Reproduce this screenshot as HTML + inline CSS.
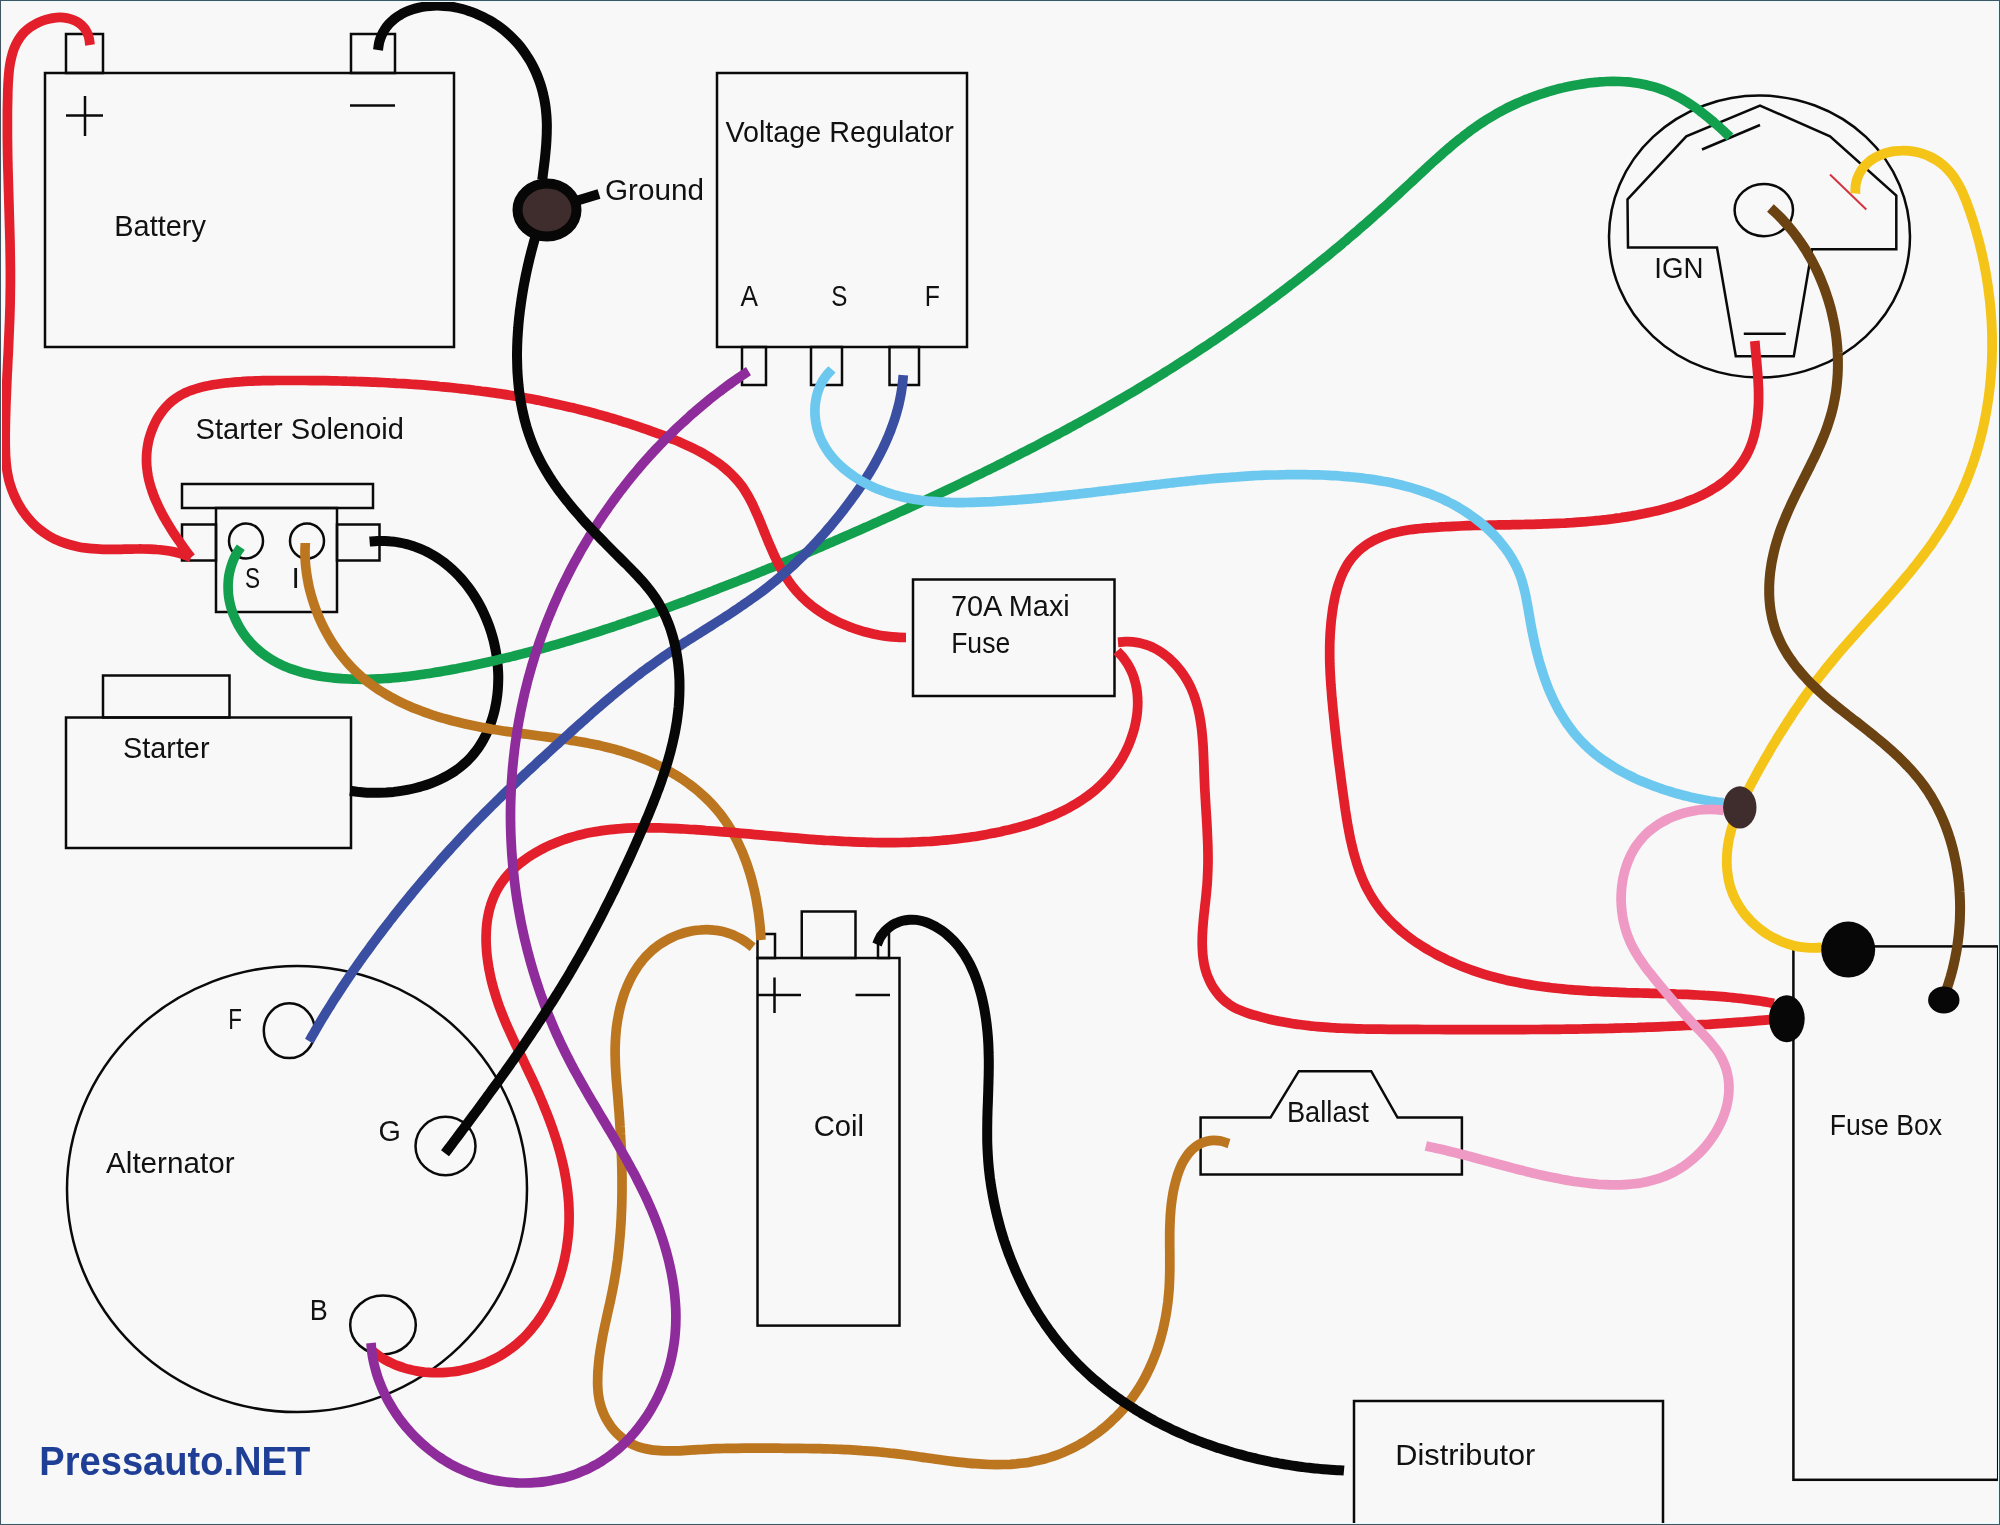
<!DOCTYPE html>
<html><head><meta charset="utf-8"><style>
html,body{margin:0;padding:0;background:#f8f8f8;overflow:hidden;}
svg{display:block;}
text{font-family:"Liberation Sans",sans-serif;}
</style></head><body>
<svg width="2000" height="1525" viewBox="0 0 2000 1525">
<rect x="0" y="0" width="2000" height="1525" fill="#f8f8f8"/>
<rect x="66" y="34" width="37" height="39" fill="none" stroke="#0a0a0a" stroke-width="2.5"/>
<rect x="351" y="34" width="44" height="39" fill="none" stroke="#0a0a0a" stroke-width="2.5"/>
<rect x="45" y="73" width="409" height="274" fill="none" stroke="#0a0a0a" stroke-width="2.5"/>
<line x1="85" y1="96" x2="85" y2="136" stroke="#0a0a0a" stroke-width="2.5"/>
<line x1="66" y1="115.5" x2="103" y2="115.5" stroke="#0a0a0a" stroke-width="2.5"/>
<line x1="350" y1="105.5" x2="395" y2="105.5" stroke="#0a0a0a" stroke-width="2.5"/>
<rect x="742" y="347" width="24" height="38" fill="none" stroke="#0a0a0a" stroke-width="2.5"/>
<rect x="811" y="347" width="31" height="38" fill="none" stroke="#0a0a0a" stroke-width="2.5"/>
<rect x="889.5" y="347" width="29.5" height="38" fill="none" stroke="#0a0a0a" stroke-width="2.5"/>
<rect x="717" y="73" width="250" height="274" fill="none" stroke="#0a0a0a" stroke-width="2.5"/>
<rect x="182" y="484" width="191" height="24" fill="none" stroke="#0a0a0a" stroke-width="2.5"/>
<rect x="182" y="524.5" width="34" height="36.0" fill="none" stroke="#0a0a0a" stroke-width="2.5"/>
<rect x="337" y="524.5" width="42.5" height="36.0" fill="none" stroke="#0a0a0a" stroke-width="2.5"/>
<rect x="216" y="508" width="121" height="104" fill="none" stroke="#0a0a0a" stroke-width="2.5"/>
<ellipse cx="246" cy="541" rx="17" ry="17.5" fill="none" stroke="#0a0a0a" stroke-width="2.5"/>
<ellipse cx="307" cy="541" rx="17" ry="17.5" fill="none" stroke="#0a0a0a" stroke-width="2.5"/>
<rect x="103" y="675.5" width="126.5" height="42.0" fill="none" stroke="#0a0a0a" stroke-width="2.5"/>
<rect x="66" y="717.5" width="285" height="130.5" fill="none" stroke="#0a0a0a" stroke-width="2.5"/>
<rect x="913" y="579.5" width="201.5" height="116.5" fill="none" stroke="#0a0a0a" stroke-width="2.5"/>
<ellipse cx="297" cy="1189" rx="230" ry="223" fill="none" stroke="#0a0a0a" stroke-width="2.5"/>
<ellipse cx="289.3" cy="1030.7" rx="25.5" ry="27.4" fill="none" stroke="#0a0a0a" stroke-width="2.5"/>
<ellipse cx="445.5" cy="1146" rx="30" ry="29.3" fill="none" stroke="#0a0a0a" stroke-width="2.5"/>
<ellipse cx="383" cy="1325" rx="32.8" ry="29.4" fill="none" stroke="#0a0a0a" stroke-width="2.5"/>
<rect x="757.5" y="934" width="17.5" height="24" fill="none" stroke="#0a0a0a" stroke-width="2.5"/>
<rect x="878" y="934" width="11" height="24" fill="none" stroke="#0a0a0a" stroke-width="2.5"/>
<rect x="801.75" y="911.5" width="53.75" height="46.5" fill="none" stroke="#0a0a0a" stroke-width="2.5"/>
<rect x="757.5" y="958" width="142.0" height="367.5999999999999" fill="none" stroke="#0a0a0a" stroke-width="2.5"/>
<line x1="774.5" y1="977.5" x2="774.5" y2="1013" stroke="#0a0a0a" stroke-width="2.5"/>
<line x1="757.5" y1="995" x2="801" y2="995" stroke="#0a0a0a" stroke-width="2.5"/>
<line x1="855.5" y1="995" x2="890" y2="995" stroke="#0a0a0a" stroke-width="2.5"/>
<path d="M1200.6 1117.6 V1174.5 H1461.9 V1117.6 H1397.5 L1371.2 1071.2 H1298.8 L1270.5 1117.6 Z" fill="none" stroke="#0a0a0a" stroke-width="2.5" stroke-linejoin="miter"/>
<rect x="1354" y="1401" width="309" height="129" fill="none" stroke="#0a0a0a" stroke-width="2.5"/>
<rect x="1793.4" y="946.4" width="204.79999999999995" height="533.4" fill="none" stroke="#0a0a0a" stroke-width="2.5"/>
<ellipse cx="1759.5" cy="236.6" rx="150.5" ry="141" fill="none" stroke="#0a0a0a" stroke-width="2.5"/>
<path d="M1627.5 199.3 L1686.3 136.3 L1760 105.5 L1830 136.3 L1896.3 195.5 V249.3 H1812 L1793.8 356.3 H1735.8 L1717 247.5 H1628 Z" fill="none" stroke="#0a0a0a" stroke-width="2.5" stroke-linejoin="miter"/>
<ellipse cx="1763.8" cy="210.1" rx="29.2" ry="26.1" fill="none" stroke="#0a0a0a" stroke-width="2.5"/>
<line x1="1702" y1="149.5" x2="1760" y2="125" stroke="#0a0a0a" stroke-width="2.5"/>
<line x1="1743.8" y1="333.8" x2="1785.8" y2="333.8" stroke="#0a0a0a" stroke-width="2.5"/>
<line x1="1830" y1="174.5" x2="1866.3" y2="209.5" stroke="#d33340" stroke-width="2"/>
<g opacity="0.999">
<text transform="translate(114.27 235.60) scale(0.9645 1)" font-size="30" fill="#111">Battery</text>
<text transform="translate(725.40 141.80) scale(0.9580 1)" font-size="30" fill="#111">Voltage Regulator</text>
<text transform="translate(740.50 306.00) scale(0.8750 1)" font-size="30" fill="#111">A</text>
<text transform="translate(831.19 306.00) scale(0.8059 1)" font-size="30" fill="#111">S</text>
<text transform="translate(924.75 306.00) scale(0.8267 1)" font-size="30" fill="#111">F</text>
<text transform="translate(605.02 199.70) scale(0.9896 1)" font-size="30" fill="#111">Ground</text>
<text transform="translate(1654.23 277.50) scale(0.9219 1)" font-size="30" fill="#111">IGN</text>
<text transform="translate(195.56 439.25) scale(0.9692 1)" font-size="30" fill="#111">Starter Solenoid</text>
<text transform="translate(244.89 588.00) scale(0.7529 1)" font-size="30" fill="#111">S</text>
<text transform="translate(291.60 588.00) scale(1.0000 1)" font-size="30" fill="#111">I</text>
<text transform="translate(123.08 757.50) scale(0.9602 1)" font-size="30" fill="#111">Starter</text>
<text transform="translate(950.97 616.00) scale(0.9633 1)" font-size="30" fill="#111">70A Maxi</text>
<text transform="translate(951.13 652.80) scale(0.8857 1)" font-size="30" fill="#111">Fuse</text>
<text transform="translate(228.31 1028.50) scale(0.7467 1)" font-size="30" fill="#111">F</text>
<text transform="translate(378.58 1141.30) scale(0.9579 1)" font-size="30" fill="#111">G</text>
<text transform="translate(106.00 1172.60) scale(0.9892 1)" font-size="30" fill="#111">Alternator</text>
<text transform="translate(309.80 1319.60) scale(0.9000 1)" font-size="30" fill="#111">B</text>
<text transform="translate(813.75 1136.40) scale(0.9750 1)" font-size="30" fill="#111">Coil</text>
<text transform="translate(1286.93 1122.20) scale(0.9097 1)" font-size="30" fill="#111">Ballast</text>
<text transform="translate(1395.35 1465.20) scale(1.0239 1)" font-size="30" fill="#111">Distributor</text>
<text transform="translate(1829.73 1135.00) scale(0.8871 1)" font-size="30" fill="#111">Fuse Box</text>
<text transform="translate(39.36 1474.70) scale(0.9452 1)" font-size="40.3" fill="#1f3f97" font-weight="bold">Pressauto.NET</text>
</g>
<path d="M90.0 45.0 C89.8 43.6 89.4 39.3 88.7 36.8 C88.0 34.4 87.0 32.2 85.8 30.2 C84.6 28.2 83.1 26.5 81.5 25.0 C79.9 23.5 78.1 22.3 76.2 21.2 C74.3 20.2 72.2 19.4 70.1 18.8 C68.0 18.2 65.7 17.8 63.5 17.6 C61.2 17.4 58.9 17.4 56.5 17.6 C54.2 17.8 51.8 18.1 49.5 18.7 C47.2 19.2 44.8 19.9 42.6 20.7 C40.3 21.5 38.1 22.5 36.0 23.7 C33.9 24.8 31.9 26.0 30.0 27.4 C28.1 28.8 26.3 30.3 24.7 31.8 C23.1 33.4 21.7 35.1 20.4 36.9 C19.1 38.7 17.9 40.6 16.9 42.5 C15.8 44.5 14.9 46.5 14.1 48.6 C13.3 50.7 12.6 52.9 12.0 55.1 C11.4 57.3 10.9 59.6 10.4 61.9 C10.0 64.2 9.6 66.6 9.3 69.0 C9.0 71.4 8.8 73.9 8.6 76.3 C8.4 78.7 8.3 81.2 8.1 83.7 C8.0 86.2 7.9 88.7 7.8 91.2 C7.8 93.6 7.7 96.1 7.7 98.6 C7.6 101.1 7.6 103.5 7.5 106.0 C7.5 108.4 7.4 110.9 7.4 113.3 C7.4 115.8 7.4 118.2 7.4 120.6 C7.4 123.1 7.4 125.5 7.4 127.9 C7.4 130.3 7.4 132.8 7.4 135.2 C7.4 137.6 7.4 140.0 7.5 142.4 C7.5 144.8 7.5 147.2 7.6 149.5 C7.6 151.9 7.6 154.3 7.7 156.7 C7.7 159.1 7.8 161.5 7.8 163.8 C7.9 166.2 7.9 168.6 8.0 170.9 C8.1 173.3 8.1 175.6 8.2 178.0 C8.3 180.4 8.3 182.7 8.4 185.1 C8.4 187.4 8.5 189.8 8.6 192.1 C8.7 194.4 8.7 196.8 8.8 199.1 C8.9 201.5 8.9 203.8 9.0 206.1 C9.1 208.5 9.1 210.8 9.2 213.1 C9.3 215.5 9.3 217.8 9.4 220.1 C9.5 222.5 9.5 224.8 9.6 227.1 C9.7 229.5 9.7 231.8 9.8 234.1 C9.8 236.4 9.9 238.8 10.0 241.1 C10.0 243.4 10.1 245.8 10.1 248.1 C10.1 250.4 10.2 252.7 10.2 255.1 C10.3 257.4 10.3 259.7 10.3 262.1 C10.3 264.4 10.4 266.7 10.4 269.1 C10.4 271.4 10.4 273.7 10.4 276.1 C10.4 278.4 10.4 280.7 10.4 283.1 C10.4 285.4 10.4 287.8 10.3 290.1 C10.3 292.5 10.3 294.8 10.2 297.2 C10.2 299.5 10.2 301.9 10.1 304.2 C10.1 306.6 10.0 309.0 9.9 311.3 C9.8 313.7 9.8 316.0 9.7 318.4 C9.6 320.8 9.5 323.2 9.4 325.5 C9.3 327.9 9.2 330.3 9.1 332.7 C9.0 335.0 8.9 337.4 8.8 339.8 C8.7 342.2 8.6 344.6 8.5 346.9 C8.4 349.3 8.3 351.7 8.2 354.1 C8.0 356.5 7.9 358.9 7.8 361.3 C7.7 363.7 7.6 366.1 7.5 368.5 C7.4 370.8 7.2 373.2 7.1 375.6 C7.0 378.0 6.9 380.4 6.8 382.8 C6.7 385.2 6.6 387.6 6.5 390.0 C6.4 392.4 6.3 394.8 6.2 397.2 C6.1 399.6 6.0 402.0 5.9 404.4 C5.8 406.8 5.8 409.2 5.7 411.6 C5.6 414.0 5.6 416.4 5.5 418.8 C5.4 421.2 5.4 423.6 5.3 426.0 C5.3 428.4 5.3 430.8 5.2 433.2 C5.2 435.6 5.2 438.0 5.2 440.4 C5.2 442.8 5.2 445.2 5.3 447.6 C5.3 450.0 5.4 452.4 5.5 454.7 C5.6 457.1 5.8 459.5 6.0 461.8 C6.2 464.2 6.5 466.5 6.8 468.9 C7.1 471.2 7.5 473.5 8.0 475.8 C8.4 478.1 9.0 480.4 9.6 482.7 C10.3 484.9 11.0 487.2 11.8 489.4 C12.6 491.6 13.4 493.8 14.4 495.9 C15.4 498.1 16.4 500.2 17.5 502.3 C18.6 504.4 19.8 506.4 21.1 508.4 C22.3 510.4 23.7 512.3 25.1 514.2 C26.5 516.0 27.9 517.9 29.5 519.6 C31.0 521.4 32.6 523.1 34.3 524.7 C36.0 526.3 37.7 527.9 39.6 529.4 C41.4 530.8 43.2 532.2 45.2 533.5 C47.1 534.8 49.1 536.1 51.2 537.2 C53.2 538.3 55.3 539.4 57.5 540.3 C59.7 541.3 61.9 542.1 64.1 542.9 C66.4 543.7 68.7 544.4 71.0 545.0 C73.3 545.7 75.6 546.2 78.0 546.7 C80.3 547.2 82.7 547.6 85.1 547.9 C87.4 548.2 89.8 548.5 92.2 548.7 C94.6 548.9 97.0 549.1 99.4 549.2 C101.8 549.3 104.2 549.3 106.6 549.4 C109.0 549.4 111.4 549.4 113.9 549.4 C116.3 549.4 118.7 549.3 121.1 549.3 C123.5 549.2 125.9 549.2 128.3 549.1 C130.7 549.1 133.1 549.0 135.5 549.0 C137.9 549.0 140.3 548.9 142.6 549.0 C145.0 549.0 147.4 549.0 149.8 549.1 C152.1 549.2 154.5 549.3 156.8 549.5 C159.2 549.6 161.5 549.9 163.8 550.2 C166.2 550.5 168.5 550.8 170.8 551.2 C173.1 551.7 175.3 552.2 177.6 552.8 C179.9 553.4 182.1 554.0 184.4 554.8 C186.6 555.6 189.9 557.1 191.0 557.5" stroke="#e31f2b" stroke-width="9.7" fill="none" stroke-linecap="butt" stroke-linejoin="round"/>
<path d="M369.6 541.6 C370.9 541.5 374.8 541.1 377.3 541.0 C379.9 540.9 382.4 540.9 384.9 541.0 C387.4 541.1 389.9 541.3 392.3 541.6 C394.8 541.8 397.2 542.2 399.5 542.6 C401.9 543.0 404.2 543.5 406.6 544.1 C408.9 544.7 411.1 545.4 413.4 546.1 C415.6 546.9 417.8 547.7 420.0 548.6 C422.1 549.5 424.3 550.5 426.4 551.5 C428.5 552.6 430.5 553.7 432.5 554.8 C434.6 556.0 436.5 557.3 438.5 558.6 C440.4 559.9 442.3 561.2 444.2 562.6 C446.0 564.1 447.9 565.6 449.6 567.1 C451.4 568.6 453.2 570.2 454.8 571.9 C456.5 573.5 458.2 575.2 459.8 577.0 C461.4 578.7 463.0 580.5 464.5 582.4 C466.0 584.2 467.5 586.1 468.9 588.0 C470.3 589.9 471.7 591.9 473.0 593.9 C474.4 595.9 475.6 598.0 476.9 600.1 C478.1 602.2 479.3 604.3 480.4 606.4 C481.6 608.6 482.7 610.8 483.7 613.0 C484.7 615.2 485.7 617.5 486.6 619.7 C487.6 622.0 488.4 624.3 489.3 626.6 C490.1 628.9 490.9 631.3 491.6 633.6 C492.3 636.0 492.9 638.3 493.6 640.7 C494.2 643.1 494.7 645.5 495.2 648.0 C495.7 650.4 496.1 652.8 496.5 655.2 C496.9 657.7 497.2 660.1 497.4 662.6 C497.7 665.0 497.9 667.5 498.0 670.0 C498.2 672.4 498.3 674.9 498.3 677.3 C498.3 679.8 498.2 682.3 498.1 684.7 C498.0 687.2 497.9 689.6 497.6 692.1 C497.4 694.5 497.1 696.9 496.7 699.3 C496.4 701.7 495.9 704.1 495.4 706.5 C495.0 708.9 494.4 711.3 493.8 713.6 C493.2 715.9 492.5 718.2 491.7 720.5 C491.0 722.8 490.2 725.0 489.3 727.2 C488.4 729.4 487.5 731.6 486.5 733.7 C485.4 735.8 484.4 737.9 483.2 740.0 C482.1 742.0 480.9 744.0 479.6 745.9 C478.3 747.9 477.0 749.8 475.5 751.6 C474.1 753.4 472.7 755.2 471.1 757.0 C469.6 758.7 467.9 760.3 466.3 761.9 C464.6 763.5 462.8 765.0 461.0 766.5 C459.2 768.0 457.3 769.4 455.4 770.7 C453.4 772.0 451.4 773.3 449.4 774.5 C447.4 775.7 445.3 776.9 443.1 777.9 C441.0 779.0 438.8 780.0 436.6 781.0 C434.4 782.0 432.1 782.9 429.8 783.7 C427.5 784.5 425.2 785.3 422.8 786.0 C420.5 786.7 418.1 787.4 415.7 788.0 C413.3 788.6 410.9 789.2 408.4 789.6 C406.0 790.1 403.6 790.6 401.1 790.9 C398.6 791.3 396.2 791.6 393.7 791.9 C391.2 792.1 388.7 792.3 386.3 792.5 C383.8 792.6 381.3 792.7 378.9 792.8 C376.4 792.8 373.9 792.8 371.5 792.8 C369.1 792.7 366.6 792.6 364.2 792.4 C361.8 792.2 359.4 792.0 357.1 791.8 C354.7 791.5 351.3 791.0 350.1 790.8" stroke="#070707" stroke-width="10" fill="none" stroke-linecap="butt" stroke-linejoin="round"/>
<path d="M240.8 547.2 C240.1 548.2 238.0 551.1 236.8 553.2 C235.6 555.2 234.6 557.4 233.6 559.5 C232.7 561.7 231.9 563.9 231.2 566.1 C230.5 568.4 229.9 570.7 229.4 573.0 C228.9 575.3 228.6 577.6 228.4 579.9 C228.2 582.3 228.0 584.6 228.1 587.0 C228.1 589.3 228.2 591.7 228.4 594.0 C228.6 596.3 229.0 598.6 229.4 600.9 C229.9 603.2 230.4 605.5 231.1 607.8 C231.8 610.0 232.5 612.3 233.3 614.5 C234.2 616.7 235.1 618.8 236.2 621.0 C237.2 623.1 238.3 625.2 239.5 627.2 C240.7 629.2 241.9 631.2 243.3 633.2 C244.6 635.1 246.0 637.0 247.5 638.8 C249.0 640.6 250.5 642.4 252.1 644.1 C253.7 645.8 255.4 647.4 257.1 648.9 C258.8 650.5 260.6 652.0 262.4 653.4 C264.2 654.8 266.1 656.1 268.0 657.3 C269.9 658.6 271.9 659.8 273.9 660.9 C275.9 662.1 277.9 663.1 280.0 664.1 C282.0 665.1 284.2 666.1 286.3 667.0 C288.5 667.8 290.6 668.7 292.8 669.4 C295.0 670.2 297.3 670.9 299.5 671.6 C301.8 672.3 304.1 672.9 306.4 673.4 C308.7 674.0 311.0 674.5 313.4 675.0 C315.7 675.5 318.1 675.9 320.4 676.3 C322.8 676.7 325.2 677.0 327.6 677.3 C330.0 677.6 332.4 677.9 334.8 678.1 C337.2 678.3 339.6 678.5 342.0 678.7 C344.4 678.8 346.8 678.9 349.2 679.0 C351.6 679.1 354.0 679.2 356.4 679.2 C358.8 679.3 361.1 679.3 363.5 679.3 C365.9 679.3 368.3 679.2 370.6 679.2 C373.0 679.1 375.3 679.0 377.7 678.9 C380.1 678.8 382.4 678.7 384.7 678.5 C387.1 678.4 389.4 678.2 391.8 678.0 C394.1 677.8 396.4 677.6 398.8 677.4 C401.1 677.1 403.4 676.9 405.7 676.6 C408.1 676.3 410.4 676.1 412.7 675.8 C415.0 675.5 417.3 675.2 419.6 674.8 C421.9 674.5 424.2 674.2 426.5 673.8 C428.8 673.5 431.1 673.1 433.4 672.7 C435.7 672.3 438.0 672.0 440.3 671.6 C442.6 671.2 444.9 670.8 447.2 670.4 C449.5 669.9 451.8 669.5 454.1 669.1 C456.4 668.7 458.7 668.2 461.0 667.8 C463.3 667.3 465.6 666.9 467.9 666.4 C470.2 665.9 472.4 665.5 474.7 665.0 C477.0 664.5 479.3 664.0 481.6 663.5 C483.9 663.0 486.2 662.5 488.4 662.0 C490.7 661.5 493.0 661.0 495.3 660.5 C497.6 659.9 499.8 659.4 502.1 658.8 C504.4 658.3 506.7 657.7 508.9 657.2 C511.2 656.6 513.5 656.1 515.8 655.5 C518.0 654.9 520.3 654.3 522.6 653.8 C524.8 653.2 527.1 652.6 529.4 652.0 C531.6 651.4 533.9 650.8 536.2 650.2 C538.4 649.5 540.7 648.9 543.0 648.3 C545.2 647.7 547.5 647.0 549.7 646.4 C552.0 645.8 554.2 645.1 556.5 644.5 C558.8 643.8 561.0 643.1 563.3 642.5 C565.5 641.8 567.8 641.1 570.0 640.5 C572.3 639.8 574.5 639.1 576.8 638.4 C579.0 637.7 581.3 637.0 583.5 636.3 C585.8 635.7 588.0 634.9 590.2 634.2 C592.5 633.5 594.7 632.8 597.0 632.1 C599.2 631.4 601.4 630.7 603.7 629.9 C605.9 629.2 608.2 628.5 610.4 627.7 C612.6 627.0 614.9 626.2 617.1 625.5 C619.3 624.7 621.5 624.0 623.8 623.2 C626.0 622.5 628.2 621.7 630.5 621.0 C632.7 620.2 634.9 619.4 637.1 618.7 C639.3 617.9 641.6 617.1 643.8 616.3 C646.0 615.5 648.2 614.8 650.4 614.0 C652.7 613.2 654.9 612.4 657.1 611.6 C659.3 610.8 661.5 610.0 663.7 609.2 C665.9 608.4 668.2 607.6 670.4 606.8 C672.6 606.0 674.8 605.2 677.0 604.3 C679.2 603.5 681.4 602.7 683.6 601.9 C685.8 601.1 688.0 600.2 690.2 599.4 C692.4 598.6 694.6 597.8 696.8 596.9 C699.0 596.1 701.2 595.3 703.4 594.4 C705.6 593.6 707.8 592.8 709.9 591.9 C712.1 591.1 714.3 590.2 716.5 589.4 C718.7 588.5 720.9 587.7 723.1 586.8 C725.3 586.0 727.4 585.1 729.6 584.3 C731.8 583.4 734.0 582.6 736.2 581.7 C738.3 580.8 740.5 580.0 742.7 579.1 C744.9 578.3 747.1 577.4 749.2 576.5 C751.4 575.6 753.6 574.8 755.7 573.9 C757.9 573.0 760.1 572.1 762.3 571.3 C764.4 570.4 766.6 569.5 768.8 568.6 C770.9 567.7 773.1 566.8 775.3 566.0 C777.4 565.1 779.6 564.2 781.8 563.3 C783.9 562.4 786.1 561.5 788.2 560.6 C790.4 559.7 792.6 558.8 794.7 557.9 C796.9 557.0 799.0 556.1 801.2 555.2 C803.4 554.3 805.5 553.4 807.7 552.5 C809.8 551.5 812.0 550.6 814.1 549.7 C816.3 548.8 818.4 547.9 820.6 547.0 C822.7 546.0 824.9 545.1 827.0 544.2 C829.2 543.3 831.3 542.3 833.5 541.4 C835.6 540.5 837.8 539.5 839.9 538.6 C842.1 537.7 844.2 536.7 846.4 535.8 C848.5 534.9 850.7 533.9 852.8 533.0 C855.0 532.0 857.1 531.1 859.2 530.2 C861.4 529.2 863.5 528.3 865.7 527.3 C867.8 526.4 869.9 525.4 872.1 524.4 C874.2 523.5 876.4 522.5 878.5 521.6 C880.6 520.6 882.8 519.7 884.9 518.7 C887.1 517.7 889.2 516.8 891.3 515.8 C893.5 514.8 895.6 513.9 897.7 512.9 C899.9 511.9 902.0 510.9 904.1 510.0 C906.3 509.0 908.4 508.0 910.5 507.0 C912.7 506.1 914.8 505.1 916.9 504.1 C919.1 503.1 921.2 502.1 923.3 501.1 C925.5 500.1 927.6 499.2 929.7 498.2 C931.8 497.2 934.0 496.2 936.1 495.2 C938.2 494.2 940.3 493.2 942.5 492.2 C944.6 491.2 946.7 490.2 948.8 489.1 C950.9 488.1 953.1 487.1 955.2 486.1 C957.3 485.1 959.4 484.1 961.5 483.1 C963.7 482.0 965.8 481.0 967.9 480.0 C970.0 479.0 972.1 477.9 974.2 476.9 C976.3 475.9 978.5 474.9 980.6 473.8 C982.7 472.8 984.8 471.7 986.9 470.7 C989.0 469.7 991.1 468.6 993.2 467.6 C995.3 466.5 997.4 465.5 999.5 464.4 C1001.6 463.4 1003.7 462.3 1005.8 461.3 C1007.9 460.2 1010.0 459.1 1012.1 458.1 C1014.2 457.0 1016.3 455.9 1018.4 454.9 C1020.5 453.8 1022.6 452.7 1024.7 451.7 C1026.7 450.6 1028.8 449.5 1030.9 448.4 C1033.0 447.3 1035.1 446.3 1037.2 445.2 C1039.3 444.1 1041.3 443.0 1043.4 441.9 C1045.5 440.8 1047.6 439.7 1049.6 438.6 C1051.7 437.5 1053.8 436.4 1055.9 435.3 C1057.9 434.2 1060.0 433.1 1062.1 431.9 C1064.1 430.8 1066.2 429.7 1068.3 428.6 C1070.3 427.5 1072.4 426.3 1074.5 425.2 C1076.5 424.1 1078.6 423.0 1080.6 421.8 C1082.7 420.7 1084.7 419.6 1086.8 418.4 C1088.8 417.3 1090.9 416.1 1092.9 415.0 C1095.0 413.8 1097.0 412.7 1099.1 411.5 C1101.1 410.4 1103.2 409.2 1105.2 408.0 C1107.2 406.9 1109.3 405.7 1111.3 404.5 C1113.3 403.4 1115.4 402.2 1117.4 401.0 C1119.4 399.8 1121.5 398.6 1123.5 397.4 C1125.5 396.3 1127.5 395.1 1129.5 393.9 C1131.6 392.7 1133.6 391.5 1135.6 390.3 C1137.6 389.1 1139.6 387.9 1141.6 386.7 C1143.6 385.5 1145.7 384.2 1147.7 383.0 C1149.7 381.8 1151.7 380.6 1153.7 379.4 C1155.7 378.1 1157.7 376.9 1159.7 375.7 C1161.6 374.4 1163.6 373.2 1165.6 371.9 C1167.6 370.7 1169.6 369.5 1171.6 368.2 C1173.6 367.0 1175.5 365.7 1177.5 364.4 C1179.5 363.2 1181.5 361.9 1183.4 360.6 C1185.4 359.4 1187.4 358.1 1189.3 356.8 C1191.3 355.6 1193.3 354.3 1195.2 353.0 C1197.2 351.7 1199.2 350.4 1201.1 349.1 C1203.1 347.8 1205.0 346.5 1207.0 345.2 C1208.9 343.9 1210.9 342.6 1212.8 341.3 C1214.7 340.0 1216.7 338.7 1218.6 337.3 C1220.5 336.0 1222.5 334.7 1224.4 333.4 C1226.3 332.0 1228.3 330.7 1230.2 329.4 C1232.1 328.0 1234.0 326.7 1235.9 325.3 C1237.9 324.0 1239.8 322.6 1241.7 321.3 C1243.6 319.9 1245.5 318.6 1247.4 317.2 C1249.3 315.8 1251.2 314.5 1253.1 313.1 C1255.0 311.7 1256.9 310.3 1258.8 309.0 C1260.7 307.6 1262.6 306.2 1264.5 304.8 C1266.4 303.4 1268.2 302.0 1270.1 300.6 C1272.0 299.2 1273.9 297.8 1275.8 296.4 C1277.6 295.0 1279.5 293.6 1281.4 292.2 C1283.2 290.8 1285.1 289.3 1287.0 287.9 C1288.8 286.5 1290.7 285.1 1292.5 283.6 C1294.4 282.2 1296.2 280.7 1298.1 279.3 C1299.9 277.9 1301.8 276.4 1303.6 275.0 C1305.5 273.5 1307.3 272.1 1309.1 270.6 C1311.0 269.1 1312.8 267.7 1314.6 266.2 C1316.5 264.7 1318.3 263.3 1320.1 261.8 C1321.9 260.3 1323.8 258.8 1325.6 257.4 C1327.4 255.9 1329.2 254.4 1331.0 252.9 C1332.8 251.4 1334.6 249.9 1336.5 248.4 C1338.3 246.9 1340.1 245.4 1341.9 243.9 C1343.7 242.4 1345.4 240.9 1347.2 239.4 C1349.0 237.8 1350.8 236.3 1352.6 234.8 C1354.4 233.3 1356.2 231.7 1358.0 230.2 C1359.7 228.7 1361.5 227.1 1363.3 225.6 C1365.1 224.1 1366.8 222.5 1368.6 221.0 C1370.4 219.4 1372.1 217.9 1373.9 216.3 C1375.6 214.7 1377.4 213.2 1379.1 211.6 C1380.9 210.0 1382.6 208.5 1384.4 206.9 C1386.1 205.3 1387.9 203.8 1389.6 202.2 C1391.4 200.6 1393.1 199.0 1394.8 197.4 C1396.6 195.8 1398.3 194.2 1400.0 192.6 C1401.8 191.0 1403.5 189.4 1405.2 187.8 C1406.9 186.2 1408.6 184.6 1410.4 183.0 C1412.1 181.4 1413.8 179.8 1415.5 178.2 C1417.2 176.6 1418.9 175.0 1420.7 173.4 C1422.4 171.8 1424.1 170.2 1425.8 168.6 C1427.6 167.0 1429.3 165.4 1431.0 163.8 C1432.8 162.2 1434.5 160.6 1436.2 159.1 C1438.0 157.5 1439.7 155.9 1441.5 154.4 C1443.2 152.8 1445.0 151.3 1446.8 149.8 C1448.6 148.3 1450.3 146.7 1452.1 145.2 C1453.9 143.8 1455.7 142.3 1457.5 140.8 C1459.3 139.3 1461.2 137.9 1463.0 136.4 C1464.8 135.0 1466.7 133.6 1468.6 132.2 C1470.4 130.8 1472.3 129.4 1474.2 128.1 C1476.1 126.7 1478.0 125.4 1479.9 124.1 C1481.8 122.8 1483.8 121.5 1485.7 120.2 C1487.7 119.0 1489.7 117.8 1491.7 116.6 C1493.7 115.4 1495.7 114.2 1497.7 113.0 C1499.8 111.9 1501.8 110.8 1503.9 109.7 C1506.0 108.6 1508.1 107.5 1510.2 106.5 C1512.3 105.5 1514.5 104.5 1516.6 103.5 C1518.8 102.5 1520.9 101.6 1523.1 100.7 C1525.3 99.8 1527.5 98.9 1529.7 98.1 C1531.9 97.2 1534.2 96.4 1536.4 95.6 C1538.7 94.8 1540.9 94.1 1543.2 93.3 C1545.5 92.6 1547.7 91.9 1550.0 91.2 C1552.3 90.6 1554.6 89.9 1556.9 89.3 C1559.2 88.7 1561.5 88.2 1563.9 87.6 C1566.2 87.1 1568.5 86.6 1570.9 86.1 C1573.2 85.6 1575.5 85.1 1577.9 84.7 C1580.2 84.3 1582.6 83.9 1584.9 83.6 C1587.3 83.2 1589.6 82.9 1592.0 82.7 C1594.3 82.4 1596.7 82.2 1599.0 82.0 C1601.4 81.8 1603.7 81.6 1606.1 81.5 C1608.4 81.4 1610.8 81.4 1613.1 81.4 C1615.4 81.4 1617.8 81.4 1620.1 81.5 C1622.4 81.6 1624.7 81.7 1627.1 81.9 C1629.4 82.1 1631.7 82.4 1633.9 82.7 C1636.2 83.0 1638.5 83.3 1640.8 83.7 C1643.0 84.2 1645.3 84.6 1647.5 85.2 C1649.8 85.7 1652.0 86.3 1654.2 86.9 C1656.4 87.6 1658.6 88.3 1660.8 89.1 C1662.9 89.9 1665.1 90.7 1667.2 91.6 C1669.4 92.5 1671.5 93.5 1673.6 94.6 C1675.7 95.6 1677.8 96.7 1679.8 97.8 C1681.9 99.0 1683.9 100.2 1685.9 101.4 C1687.9 102.7 1689.9 104.0 1691.9 105.3 C1693.9 106.6 1695.8 108.0 1697.8 109.4 C1699.7 110.8 1701.6 112.3 1703.5 113.7 C1705.4 115.2 1707.2 116.7 1709.1 118.2 C1710.9 119.7 1712.7 121.3 1714.5 122.8 C1716.3 124.4 1718.1 125.9 1719.8 127.5 C1721.6 129.1 1723.3 130.7 1725.0 132.3 C1726.7 133.8 1729.2 136.2 1730.0 137.0" stroke="#13a04e" stroke-width="9.7" fill="none" stroke-linecap="butt" stroke-linejoin="round"/>
<path d="M305.3 543.0 C305.3 544.2 305.1 547.6 305.0 550.0 C305.0 552.3 305.0 554.7 305.1 557.0 C305.2 559.4 305.3 561.7 305.5 564.1 C305.7 566.5 306.0 568.8 306.3 571.2 C306.6 573.6 306.9 575.9 307.4 578.3 C307.8 580.6 308.2 583.0 308.7 585.4 C309.2 587.7 309.8 590.1 310.4 592.4 C311.0 594.7 311.7 597.1 312.4 599.4 C313.1 601.7 313.9 604.0 314.7 606.3 C315.5 608.6 316.3 610.8 317.2 613.1 C318.1 615.3 319.0 617.6 320.0 619.8 C321.0 622.0 322.0 624.2 323.1 626.4 C324.2 628.5 325.3 630.7 326.5 632.8 C327.6 634.9 328.8 637.0 330.1 639.1 C331.3 641.1 332.6 643.2 333.9 645.2 C335.3 647.1 336.6 649.1 338.0 651.0 C339.4 653.0 340.9 654.9 342.3 656.7 C343.8 658.5 345.3 660.4 346.9 662.1 C348.4 663.9 350.0 665.6 351.6 667.3 C353.2 669.0 354.9 670.6 356.6 672.2 C358.3 673.8 360.0 675.4 361.7 676.9 C363.5 678.4 365.3 679.9 367.1 681.3 C368.9 682.7 370.8 684.1 372.6 685.5 C374.5 686.8 376.4 688.1 378.3 689.4 C380.2 690.7 382.2 691.9 384.2 693.2 C386.2 694.4 388.2 695.5 390.2 696.7 C392.2 697.8 394.3 698.9 396.3 700.0 C398.4 701.1 400.5 702.1 402.6 703.1 C404.7 704.1 406.9 705.1 409.0 706.0 C411.2 707.0 413.3 707.9 415.5 708.8 C417.7 709.7 419.9 710.5 422.1 711.3 C424.4 712.2 426.6 713.0 428.9 713.7 C431.1 714.5 433.4 715.3 435.6 716.0 C437.9 716.7 440.2 717.4 442.5 718.1 C444.8 718.7 447.1 719.4 449.5 720.0 C451.8 720.7 454.1 721.3 456.5 721.8 C458.8 722.4 461.1 723.0 463.5 723.5 C465.9 724.1 468.2 724.6 470.6 725.1 C473.0 725.6 475.3 726.1 477.7 726.5 C480.1 727.0 482.4 727.5 484.8 727.9 C487.2 728.3 489.6 728.7 492.0 729.2 C494.3 729.6 496.7 729.9 499.1 730.3 C501.5 730.7 503.9 731.1 506.2 731.4 C508.6 731.8 511.0 732.1 513.4 732.4 C515.7 732.8 518.1 733.1 520.5 733.4 C522.9 733.7 525.2 734.0 527.6 734.3 C530.0 734.7 532.3 735.0 534.7 735.3 C537.1 735.6 539.4 735.9 541.8 736.2 C544.1 736.5 546.5 736.8 548.8 737.1 C551.2 737.4 553.5 737.7 555.9 738.1 C558.2 738.4 560.6 738.7 562.9 739.0 C565.2 739.4 567.6 739.7 569.9 740.1 C572.2 740.5 574.6 740.8 576.9 741.2 C579.2 741.6 581.5 742.0 583.9 742.4 C586.2 742.8 588.5 743.3 590.8 743.7 C593.1 744.2 595.4 744.7 597.7 745.1 C600.0 745.6 602.3 746.2 604.6 746.7 C606.9 747.2 609.2 747.8 611.4 748.4 C613.7 749.0 616.0 749.6 618.3 750.3 C620.5 750.9 622.8 751.6 625.0 752.3 C627.3 753.0 629.5 753.7 631.8 754.5 C634.0 755.3 636.3 756.1 638.5 756.9 C640.7 757.8 643.0 758.7 645.2 759.6 C647.4 760.5 649.6 761.4 651.8 762.4 C654.0 763.4 656.1 764.4 658.3 765.5 C660.5 766.5 662.6 767.6 664.7 768.7 C666.8 769.9 668.9 771.0 671.0 772.2 C673.1 773.4 675.2 774.7 677.2 775.9 C679.2 777.2 681.2 778.5 683.2 779.8 C685.2 781.2 687.1 782.6 689.1 784.0 C691.0 785.4 692.9 786.8 694.7 788.3 C696.6 789.8 698.4 791.3 700.2 792.9 C702.0 794.4 703.7 796.0 705.4 797.6 C707.2 799.3 708.8 800.9 710.5 802.6 C712.1 804.3 713.7 806.0 715.2 807.8 C716.7 809.6 718.2 811.4 719.7 813.2 C721.1 815.1 722.6 816.9 723.9 818.9 C725.3 820.8 726.6 822.7 727.9 824.7 C729.1 826.6 730.4 828.6 731.6 830.7 C732.8 832.7 733.9 834.7 735.0 836.8 C736.1 838.9 737.2 841.0 738.2 843.1 C739.3 845.3 740.2 847.4 741.2 849.6 C742.2 851.8 743.1 853.9 743.9 856.2 C744.8 858.4 745.6 860.6 746.5 862.8 C747.3 865.1 748.0 867.4 748.7 869.6 C749.5 871.9 750.2 874.2 750.8 876.5 C751.5 878.8 752.1 881.1 752.7 883.5 C753.3 885.8 753.8 888.1 754.4 890.5 C754.9 892.8 755.4 895.1 755.9 897.5 C756.3 899.9 756.7 902.2 757.1 904.6 C757.5 906.9 757.9 909.3 758.3 911.7 C758.6 914.0 758.9 916.4 759.2 918.8 C759.5 921.2 759.7 923.5 760.0 925.9 C760.2 928.2 760.4 930.6 760.6 933.0 C760.7 935.3 760.9 938.8 761.0 940.0" stroke="#bc7620" stroke-width="9.7" fill="none" stroke-linecap="butt" stroke-linejoin="round"/>
<path d="M191.0 557.5 C190.3 556.6 188.4 554.0 187.0 552.2 C185.7 550.4 184.4 548.5 183.0 546.7 C181.7 544.8 180.3 542.9 179.0 540.9 C177.6 539.0 176.3 537.1 175.0 535.1 C173.6 533.1 172.3 531.1 171.0 529.0 C169.8 527.0 168.5 524.9 167.2 522.8 C166.0 520.7 164.8 518.6 163.6 516.5 C162.4 514.4 161.3 512.2 160.2 510.0 C159.1 507.9 158.1 505.7 157.1 503.4 C156.1 501.2 155.1 499.0 154.2 496.8 C153.4 494.5 152.5 492.3 151.8 490.0 C151.0 487.7 150.3 485.4 149.7 483.1 C149.1 480.8 148.6 478.5 148.1 476.2 C147.7 473.9 147.3 471.6 147.1 469.2 C146.8 466.9 146.6 464.5 146.5 462.2 C146.5 459.9 146.5 457.5 146.6 455.1 C146.7 452.8 147.0 450.4 147.3 448.1 C147.6 445.8 148.0 443.5 148.5 441.2 C149.0 438.9 149.7 436.6 150.4 434.4 C151.1 432.2 151.9 430.0 152.8 427.8 C153.7 425.7 154.7 423.6 155.7 421.5 C156.8 419.5 158.0 417.5 159.3 415.6 C160.5 413.6 161.9 411.8 163.3 410.0 C164.8 408.2 166.3 406.5 167.9 404.9 C169.5 403.3 171.2 401.8 173.0 400.3 C174.8 398.9 176.7 397.6 178.7 396.4 C180.6 395.2 182.7 394.1 184.8 393.0 C186.9 392.0 189.1 391.1 191.3 390.3 C193.6 389.5 195.9 388.7 198.2 388.1 C200.5 387.4 202.9 386.8 205.3 386.3 C207.7 385.7 210.1 385.3 212.6 384.8 C215.0 384.4 217.4 384.0 219.9 383.7 C222.3 383.4 224.7 383.1 227.2 382.8 C229.6 382.6 232.0 382.3 234.4 382.1 C236.7 381.9 239.1 381.7 241.5 381.6 C243.9 381.4 246.2 381.3 248.6 381.2 C250.9 381.1 253.3 381.0 255.6 380.9 C257.9 380.8 260.3 380.8 262.6 380.7 C264.9 380.7 267.2 380.6 269.6 380.6 C271.9 380.6 274.2 380.5 276.5 380.5 C278.9 380.5 281.2 380.5 283.5 380.5 C285.8 380.5 288.2 380.5 290.5 380.5 C292.9 380.5 295.2 380.5 297.5 380.5 C299.9 380.5 302.2 380.5 304.6 380.5 C306.9 380.5 309.3 380.5 311.6 380.6 C314.0 380.6 316.3 380.6 318.7 380.6 C321.0 380.7 323.4 380.7 325.7 380.7 C328.1 380.8 330.4 380.8 332.8 380.8 C335.2 380.9 337.5 380.9 339.9 381.0 C342.2 381.1 344.6 381.1 347.0 381.2 C349.3 381.2 351.7 381.3 354.1 381.4 C356.4 381.5 358.8 381.5 361.2 381.6 C363.5 381.7 365.9 381.8 368.3 381.9 C370.7 382.0 373.0 382.1 375.4 382.2 C377.8 382.3 380.1 382.4 382.5 382.5 C384.9 382.6 387.3 382.7 389.6 382.9 C392.0 383.0 394.4 383.1 396.7 383.3 C399.1 383.4 401.5 383.6 403.9 383.7 C406.2 383.9 408.6 384.0 411.0 384.2 C413.3 384.3 415.7 384.5 418.1 384.7 C420.4 384.9 422.8 385.1 425.2 385.2 C427.5 385.4 429.9 385.6 432.3 385.8 C434.6 386.0 437.0 386.2 439.4 386.5 C441.7 386.7 444.1 386.9 446.4 387.1 C448.8 387.4 451.2 387.6 453.5 387.8 C455.9 388.1 458.2 388.3 460.6 388.6 C462.9 388.9 465.3 389.1 467.6 389.4 C470.0 389.7 472.3 390.0 474.7 390.3 C477.0 390.5 479.4 390.8 481.7 391.2 C484.0 391.5 486.4 391.8 488.7 392.1 C491.0 392.4 493.4 392.8 495.7 393.1 C498.0 393.4 500.4 393.8 502.7 394.1 C505.0 394.5 507.3 394.9 509.7 395.2 C512.0 395.6 514.3 396.0 516.6 396.4 C518.9 396.8 521.2 397.2 523.5 397.6 C525.8 398.0 528.1 398.4 530.4 398.8 C532.7 399.3 535.0 399.7 537.3 400.1 C539.6 400.6 541.9 401.0 544.2 401.5 C546.5 402.0 548.8 402.4 551.1 402.9 C553.4 403.4 555.7 403.9 558.0 404.4 C560.3 404.9 562.6 405.4 564.8 406.0 C567.1 406.5 569.4 407.0 571.7 407.6 C574.0 408.1 576.2 408.7 578.5 409.2 C580.8 409.8 583.1 410.4 585.3 410.9 C587.6 411.5 589.9 412.1 592.2 412.7 C594.4 413.3 596.7 414.0 599.0 414.6 C601.2 415.2 603.5 415.8 605.8 416.5 C608.0 417.2 610.3 417.8 612.6 418.5 C614.8 419.2 617.1 419.8 619.4 420.5 C621.6 421.2 623.9 421.9 626.2 422.7 C628.4 423.4 630.7 424.1 633.0 424.9 C635.2 425.6 637.5 426.3 639.8 427.1 C642.0 427.9 644.3 428.7 646.5 429.4 C648.8 430.2 651.1 431.0 653.3 431.9 C655.6 432.7 657.9 433.5 660.1 434.3 C662.4 435.2 664.6 436.0 666.9 436.9 C669.1 437.8 671.4 438.6 673.6 439.6 C675.9 440.5 678.1 441.4 680.3 442.3 C682.5 443.3 684.7 444.3 686.9 445.3 C689.1 446.3 691.3 447.3 693.4 448.3 C695.6 449.4 697.7 450.5 699.8 451.6 C701.8 452.7 703.9 453.9 705.9 455.1 C708.0 456.3 710.0 457.5 711.9 458.8 C713.9 460.0 715.8 461.3 717.7 462.7 C719.5 464.0 721.4 465.4 723.2 466.9 C725.0 468.3 726.7 469.8 728.4 471.4 C730.1 472.9 731.7 474.5 733.3 476.1 C734.9 477.8 736.5 479.5 737.9 481.2 C739.4 483.0 740.8 484.8 742.2 486.6 C743.5 488.5 744.8 490.4 746.0 492.4 C747.3 494.3 748.4 496.3 749.5 498.4 C750.6 500.4 751.7 502.5 752.7 504.6 C753.7 506.8 754.7 508.9 755.6 511.1 C756.6 513.2 757.5 515.4 758.5 517.6 C759.4 519.8 760.3 522.0 761.2 524.2 C762.1 526.4 763.0 528.7 763.9 530.9 C764.8 533.1 765.7 535.3 766.6 537.5 C767.5 539.7 768.4 541.9 769.3 544.1 C770.3 546.3 771.2 548.5 772.2 550.6 C773.1 552.8 774.1 555.0 775.1 557.1 C776.1 559.2 777.2 561.3 778.2 563.4 C779.3 565.5 780.4 567.6 781.5 569.6 C782.7 571.7 783.8 573.7 785.1 575.7 C786.3 577.6 787.6 579.6 788.9 581.5 C790.2 583.4 791.6 585.2 793.0 587.1 C794.4 588.9 795.9 590.7 797.5 592.4 C799.0 594.1 800.6 595.8 802.3 597.4 C804.0 599.1 805.7 600.7 807.5 602.2 C809.3 603.7 811.1 605.2 813.0 606.7 C814.8 608.1 816.8 609.5 818.7 610.9 C820.7 612.2 822.7 613.5 824.8 614.8 C826.8 616.0 828.9 617.2 831.0 618.3 C833.1 619.5 835.3 620.6 837.4 621.6 C839.6 622.7 841.8 623.7 844.0 624.6 C846.3 625.6 848.5 626.5 850.8 627.3 C853.0 628.2 855.3 629.0 857.6 629.7 C859.9 630.4 862.2 631.1 864.6 631.8 C866.9 632.4 869.2 633.0 871.5 633.5 C873.8 634.1 876.2 634.5 878.5 635.0 C880.8 635.4 883.2 635.8 885.5 636.1 C887.8 636.4 890.1 636.7 892.4 636.9 C894.7 637.1 897.0 637.3 899.2 637.4 C901.5 637.5 904.9 637.5 906.0 637.5" stroke="#e31f2b" stroke-width="9.7" fill="none" stroke-linecap="butt" stroke-linejoin="round"/>
<path d="M903.3 375.2 C903.2 376.4 902.9 380.0 902.6 382.3 C902.4 384.7 902.1 387.0 901.7 389.4 C901.4 391.7 901.0 394.0 900.5 396.4 C900.1 398.7 899.6 401.0 899.1 403.2 C898.5 405.5 898.0 407.8 897.3 410.1 C896.7 412.3 896.1 414.5 895.4 416.8 C894.7 419.0 894.0 421.2 893.2 423.4 C892.4 425.6 891.6 427.8 890.8 430.0 C890.0 432.2 889.1 434.3 888.2 436.5 C887.3 438.6 886.4 440.8 885.4 442.9 C884.4 445.0 883.4 447.2 882.4 449.3 C881.4 451.4 880.3 453.4 879.2 455.5 C878.1 457.6 877.0 459.7 875.9 461.7 C874.8 463.8 873.6 465.8 872.4 467.9 C871.2 469.9 870.0 471.9 868.8 473.9 C867.5 475.9 866.3 477.9 865.0 479.9 C863.7 481.9 862.4 483.8 861.1 485.8 C859.8 487.8 858.4 489.7 857.1 491.7 C855.7 493.6 854.3 495.5 852.9 497.4 C851.5 499.3 850.1 501.3 848.7 503.1 C847.3 505.0 845.9 506.9 844.4 508.8 C843.0 510.7 841.5 512.5 840.0 514.4 C838.6 516.2 837.1 518.1 835.6 519.9 C834.1 521.7 832.6 523.5 831.1 525.3 C829.6 527.1 828.0 528.9 826.5 530.7 C824.9 532.5 823.4 534.3 821.8 536.0 C820.2 537.8 818.7 539.5 817.1 541.3 C815.5 543.0 813.9 544.7 812.3 546.4 C810.6 548.1 809.0 549.8 807.4 551.5 C805.7 553.2 804.1 554.8 802.4 556.5 C800.7 558.1 799.0 559.7 797.3 561.4 C795.7 563.0 793.9 564.6 792.2 566.2 C790.5 567.8 788.8 569.3 787.0 570.9 C785.3 572.5 783.5 574.0 781.7 575.5 C780.0 577.1 778.2 578.6 776.4 580.1 C774.6 581.6 772.7 583.0 770.9 584.5 C769.1 586.0 767.2 587.4 765.4 588.8 C763.5 590.3 761.7 591.7 759.8 593.1 C757.9 594.5 756.0 595.9 754.1 597.2 C752.2 598.6 750.3 600.0 748.4 601.3 C746.4 602.6 744.5 604.0 742.6 605.3 C740.6 606.6 738.7 608.0 736.7 609.3 C734.8 610.6 732.8 611.9 730.8 613.2 C728.9 614.5 726.9 615.7 724.9 617.0 C722.9 618.3 720.9 619.6 719.0 620.8 C717.0 622.1 715.0 623.4 713.0 624.6 C711.0 625.9 709.0 627.2 707.0 628.4 C705.0 629.7 703.0 631.0 701.0 632.2 C699.0 633.5 697.0 634.7 695.1 636.0 C693.1 637.3 691.1 638.5 689.1 639.8 C687.1 641.1 685.1 642.3 683.1 643.6 C681.2 644.9 679.2 646.2 677.2 647.5 C675.2 648.8 673.3 650.1 671.3 651.4 C669.3 652.7 667.4 654.0 665.5 655.3 C663.5 656.6 661.6 658.0 659.6 659.3 C657.7 660.7 655.8 662.0 653.9 663.4 C652.0 664.7 650.1 666.1 648.2 667.5 C646.3 668.9 644.4 670.3 642.5 671.7 C640.7 673.1 638.8 674.5 636.9 676.0 C635.1 677.4 633.2 678.8 631.4 680.3 C629.5 681.7 627.7 683.2 625.9 684.7 C624.0 686.1 622.2 687.6 620.4 689.1 C618.6 690.6 616.8 692.0 615.0 693.5 C613.1 695.0 611.3 696.5 609.6 698.1 C607.8 699.6 606.0 701.1 604.2 702.6 C602.4 704.1 600.6 705.7 598.8 707.2 C597.1 708.7 595.3 710.3 593.5 711.8 C591.8 713.4 590.0 714.9 588.2 716.5 C586.5 718.0 584.7 719.6 583.0 721.1 C581.2 722.7 579.5 724.3 577.7 725.8 C576.0 727.4 574.2 729.0 572.5 730.5 C570.7 732.1 569.0 733.7 567.2 735.3 C565.5 736.9 563.7 738.4 562.0 740.0 C560.3 741.6 558.5 743.2 556.8 744.8 C555.0 746.3 553.3 747.9 551.6 749.5 C549.8 751.1 548.1 752.7 546.4 754.3 C544.6 755.9 542.9 757.5 541.2 759.1 C539.4 760.6 537.7 762.2 536.0 763.8 C534.2 765.4 532.5 767.0 530.8 768.6 C529.1 770.2 527.3 771.8 525.6 773.4 C523.9 775.0 522.2 776.6 520.5 778.3 C518.8 779.9 517.0 781.5 515.3 783.1 C513.6 784.7 511.9 786.3 510.2 788.0 C508.5 789.6 506.8 791.2 505.1 792.8 C503.4 794.5 501.8 796.1 500.1 797.8 C498.4 799.4 496.7 801.0 495.0 802.7 C493.3 804.3 491.7 806.0 490.0 807.6 C488.3 809.3 486.7 811.0 485.0 812.6 C483.4 814.3 481.7 816.0 480.1 817.6 C478.4 819.3 476.8 821.0 475.1 822.7 C473.5 824.4 471.9 826.1 470.2 827.7 C468.6 829.4 467.0 831.1 465.4 832.9 C463.8 834.6 462.2 836.3 460.6 838.0 C459.0 839.7 457.4 841.4 455.8 843.2 C454.2 844.9 452.6 846.6 451.0 848.4 C449.4 850.1 447.9 851.8 446.3 853.6 C444.7 855.3 443.1 857.1 441.6 858.8 C440.0 860.6 438.5 862.4 436.9 864.1 C435.4 865.9 433.8 867.7 432.3 869.4 C430.8 871.2 429.2 873.0 427.7 874.8 C426.2 876.5 424.6 878.3 423.1 880.1 C421.6 881.9 420.1 883.7 418.6 885.5 C417.1 887.3 415.6 889.1 414.1 890.9 C412.6 892.7 411.1 894.6 409.6 896.4 C408.1 898.2 406.6 900.0 405.1 901.8 C403.6 903.7 402.2 905.5 400.7 907.3 C399.2 909.2 397.8 911.0 396.3 912.8 C394.8 914.7 393.4 916.5 391.9 918.4 C390.5 920.2 389.0 922.1 387.6 924.0 C386.2 925.8 384.7 927.7 383.3 929.5 C381.9 931.4 380.5 933.3 379.0 935.2 C377.6 937.0 376.2 938.9 374.8 940.8 C373.4 942.7 372.0 944.6 370.6 946.5 C369.2 948.4 367.8 950.3 366.5 952.2 C365.1 954.1 363.7 956.0 362.3 957.9 C361.0 959.8 359.6 961.7 358.3 963.7 C356.9 965.6 355.6 967.5 354.2 969.4 C352.9 971.4 351.5 973.3 350.2 975.3 C348.9 977.2 347.6 979.1 346.3 981.1 C345.0 983.0 343.6 985.0 342.3 987.0 C341.1 988.9 339.8 990.9 338.5 992.9 C337.2 994.8 335.9 996.8 334.6 998.8 C333.4 1000.8 332.1 1002.8 330.9 1004.8 C329.6 1006.8 328.4 1008.8 327.1 1010.8 C325.9 1012.8 324.7 1014.8 323.4 1016.8 C322.2 1018.8 321.0 1020.8 319.8 1022.8 C318.6 1024.9 317.4 1026.9 316.2 1028.9 C315.0 1031.0 313.9 1033.0 312.7 1035.0 C311.5 1037.1 309.8 1040.2 309.2 1041.2" stroke="#3b4fa2" stroke-width="9.7" fill="none" stroke-linecap="butt" stroke-linejoin="round"/>
<path d="M1754.8 341.0 C1754.9 342.1 1755.2 345.5 1755.3 347.8 C1755.5 350.0 1755.8 352.3 1756.0 354.6 C1756.2 356.9 1756.4 359.2 1756.6 361.5 C1756.8 363.8 1757.0 366.1 1757.2 368.4 C1757.4 370.8 1757.6 373.1 1757.8 375.5 C1757.9 377.8 1758.1 380.2 1758.2 382.5 C1758.3 384.9 1758.5 387.3 1758.5 389.7 C1758.6 392.1 1758.6 394.5 1758.6 397.0 C1758.6 399.4 1758.6 401.8 1758.5 404.3 C1758.4 406.7 1758.2 409.2 1758.0 411.7 C1757.8 414.1 1757.6 416.6 1757.3 419.1 C1756.9 421.5 1756.6 424.0 1756.1 426.4 C1755.7 428.8 1755.2 431.2 1754.6 433.6 C1754.1 435.9 1753.4 438.3 1752.7 440.5 C1752.0 442.8 1751.2 445.0 1750.3 447.2 C1749.4 449.4 1748.5 451.5 1747.4 453.5 C1746.4 455.5 1745.3 457.5 1744.1 459.4 C1742.9 461.3 1741.6 463.1 1740.3 464.9 C1739.0 466.7 1737.6 468.4 1736.1 470.1 C1734.6 471.7 1733.1 473.3 1731.5 474.9 C1729.9 476.4 1728.3 477.9 1726.5 479.4 C1724.8 480.8 1723.1 482.2 1721.3 483.5 C1719.4 484.9 1717.6 486.1 1715.7 487.4 C1713.7 488.6 1711.8 489.8 1709.8 491.0 C1707.8 492.1 1705.7 493.2 1703.7 494.3 C1701.6 495.3 1699.5 496.3 1697.3 497.3 C1695.2 498.3 1693.0 499.2 1690.8 500.1 C1688.6 501.0 1686.3 501.9 1684.1 502.7 C1681.8 503.5 1679.5 504.3 1677.2 505.0 C1674.9 505.8 1672.6 506.5 1670.3 507.2 C1667.9 507.9 1665.6 508.5 1663.2 509.1 C1660.9 509.8 1658.5 510.4 1656.2 510.9 C1653.8 511.5 1651.4 512.0 1649.0 512.5 C1646.7 513.1 1644.3 513.6 1641.9 514.0 C1639.6 514.5 1637.2 514.9 1634.8 515.4 C1632.5 515.8 1630.1 516.2 1627.8 516.6 C1625.4 517.0 1623.1 517.3 1620.7 517.7 C1618.4 518.0 1616.1 518.4 1613.7 518.7 C1611.4 519.0 1609.1 519.3 1606.7 519.6 C1604.4 519.8 1602.1 520.1 1599.7 520.4 C1597.4 520.6 1595.1 520.8 1592.8 521.0 C1590.5 521.3 1588.1 521.5 1585.8 521.7 C1583.5 521.8 1581.2 522.0 1578.9 522.2 C1576.6 522.4 1574.3 522.5 1571.9 522.7 C1569.6 522.8 1567.3 522.9 1565.0 523.1 C1562.7 523.2 1560.4 523.3 1558.1 523.4 C1555.8 523.5 1553.5 523.6 1551.1 523.7 C1548.8 523.8 1546.5 523.9 1544.2 523.9 C1541.9 524.0 1539.6 524.1 1537.3 524.1 C1535.0 524.2 1532.7 524.3 1530.3 524.3 C1528.0 524.4 1525.7 524.4 1523.4 524.5 C1521.1 524.5 1518.7 524.6 1516.4 524.6 C1514.1 524.7 1511.8 524.7 1509.4 524.8 C1507.1 524.8 1504.8 524.8 1502.5 524.9 C1500.1 524.9 1497.8 525.0 1495.4 525.0 C1493.1 525.1 1490.8 525.1 1488.4 525.2 C1486.1 525.2 1483.7 525.3 1481.4 525.3 C1479.0 525.4 1476.6 525.5 1474.3 525.5 C1471.9 525.6 1469.6 525.7 1467.2 525.7 C1464.8 525.8 1462.4 525.9 1460.0 526.0 C1457.7 526.1 1455.3 526.2 1452.9 526.3 C1450.5 526.4 1448.1 526.5 1445.7 526.7 C1443.3 526.8 1440.9 526.9 1438.4 527.1 C1436.0 527.2 1433.6 527.4 1431.2 527.6 C1428.7 527.7 1426.3 527.9 1423.9 528.1 C1421.4 528.4 1419.0 528.6 1416.6 528.9 C1414.2 529.2 1411.8 529.5 1409.4 529.8 C1407.0 530.2 1404.6 530.6 1402.3 531.0 C1399.9 531.5 1397.6 532.0 1395.3 532.6 C1393.0 533.1 1390.8 533.7 1388.5 534.4 C1386.3 535.1 1384.1 535.9 1381.9 536.7 C1379.8 537.6 1377.7 538.5 1375.6 539.5 C1373.6 540.5 1371.5 541.6 1369.6 542.8 C1367.6 543.9 1365.7 545.2 1363.9 546.6 C1362.1 547.9 1360.3 549.4 1358.6 550.9 C1357.0 552.5 1355.4 554.1 1353.9 555.8 C1352.4 557.4 1351.0 559.2 1349.7 561.1 C1348.3 562.9 1347.1 564.8 1346.0 566.8 C1344.9 568.8 1343.8 570.8 1342.9 572.9 C1341.9 575.0 1341.0 577.1 1340.2 579.3 C1339.4 581.5 1338.6 583.7 1337.9 586.0 C1337.2 588.2 1336.6 590.5 1336.0 592.8 C1335.4 595.1 1334.9 597.5 1334.4 599.8 C1334.0 602.1 1333.5 604.5 1333.1 606.9 C1332.7 609.2 1332.4 611.6 1332.1 613.9 C1331.8 616.3 1331.5 618.7 1331.2 621.0 C1331.0 623.4 1330.8 625.8 1330.6 628.2 C1330.4 630.5 1330.2 632.9 1330.1 635.3 C1330.0 637.6 1329.9 640.0 1329.8 642.4 C1329.7 644.8 1329.7 647.1 1329.7 649.5 C1329.7 651.9 1329.7 654.3 1329.7 656.6 C1329.7 659.0 1329.8 661.4 1329.8 663.8 C1329.9 666.1 1330.0 668.5 1330.1 670.9 C1330.2 673.2 1330.3 675.6 1330.5 678.0 C1330.6 680.3 1330.8 682.7 1330.9 685.0 C1331.1 687.4 1331.3 689.8 1331.5 692.1 C1331.6 694.5 1331.8 696.8 1332.0 699.1 C1332.3 701.5 1332.5 703.8 1332.7 706.2 C1332.9 708.5 1333.1 710.8 1333.4 713.1 C1333.6 715.5 1333.8 717.8 1334.1 720.1 C1334.3 722.4 1334.6 724.7 1334.8 727.0 C1335.1 729.3 1335.3 731.6 1335.6 733.9 C1335.8 736.2 1336.1 738.5 1336.3 740.8 C1336.6 743.1 1336.9 745.4 1337.1 747.7 C1337.4 750.0 1337.7 752.3 1338.0 754.6 C1338.2 756.9 1338.5 759.2 1338.8 761.5 C1339.1 763.8 1339.4 766.1 1339.7 768.5 C1340.0 770.8 1340.3 773.1 1340.6 775.4 C1340.9 777.7 1341.2 780.0 1341.5 782.3 C1341.8 784.7 1342.1 787.0 1342.4 789.3 C1342.8 791.7 1343.1 794.0 1343.4 796.4 C1343.7 798.7 1344.1 801.1 1344.4 803.4 C1344.7 805.8 1345.1 808.2 1345.4 810.5 C1345.8 812.9 1346.2 815.3 1346.5 817.6 C1346.9 820.0 1347.3 822.4 1347.7 824.7 C1348.1 827.1 1348.6 829.5 1349.0 831.8 C1349.5 834.2 1349.9 836.5 1350.4 838.9 C1350.9 841.2 1351.5 843.5 1352.0 845.9 C1352.6 848.2 1353.1 850.5 1353.7 852.8 C1354.3 855.1 1355.0 857.4 1355.7 859.6 C1356.3 861.9 1357.0 864.1 1357.8 866.4 C1358.5 868.6 1359.3 870.8 1360.1 873.0 C1361.0 875.2 1361.8 877.3 1362.7 879.5 C1363.7 881.6 1364.6 883.7 1365.6 885.8 C1366.6 887.9 1367.7 890.0 1368.8 892.0 C1369.9 894.0 1371.0 896.0 1372.3 898.0 C1373.5 900.0 1374.7 901.9 1376.1 903.8 C1377.4 905.7 1378.8 907.6 1380.2 909.4 C1381.6 911.2 1383.1 913.0 1384.7 914.8 C1386.2 916.5 1387.8 918.3 1389.4 920.0 C1391.1 921.6 1392.7 923.3 1394.5 924.9 C1396.2 926.5 1397.9 928.1 1399.7 929.7 C1401.5 931.2 1403.4 932.7 1405.2 934.2 C1407.1 935.7 1409.0 937.2 1410.9 938.6 C1412.9 940.0 1414.8 941.4 1416.8 942.7 C1418.8 944.0 1420.8 945.4 1422.8 946.6 C1424.9 947.9 1426.9 949.1 1429.0 950.4 C1431.1 951.6 1433.1 952.7 1435.2 953.9 C1437.3 955.0 1439.4 956.1 1441.6 957.2 C1443.7 958.3 1445.8 959.3 1447.9 960.3 C1450.1 961.3 1452.2 962.3 1454.4 963.2 C1456.5 964.2 1458.7 965.1 1460.8 966.0 C1463.0 966.8 1465.2 967.7 1467.4 968.5 C1469.5 969.3 1471.7 970.1 1473.9 970.9 C1476.1 971.7 1478.3 972.4 1480.6 973.1 C1482.8 973.8 1485.0 974.5 1487.2 975.1 C1489.4 975.8 1491.7 976.4 1493.9 977.0 C1496.2 977.6 1498.4 978.2 1500.7 978.8 C1502.9 979.3 1505.2 979.9 1507.4 980.4 C1509.7 980.9 1512.0 981.4 1514.2 981.8 C1516.5 982.3 1518.8 982.8 1521.1 983.2 C1523.4 983.6 1525.7 984.0 1528.0 984.4 C1530.3 984.8 1532.6 985.2 1534.9 985.5 C1537.2 985.9 1539.5 986.2 1541.8 986.5 C1544.1 986.8 1546.4 987.1 1548.7 987.4 C1551.1 987.7 1553.4 988.0 1555.7 988.2 C1558.1 988.5 1560.4 988.7 1562.7 988.9 C1565.1 989.1 1567.4 989.4 1569.8 989.6 C1572.1 989.8 1574.4 989.9 1576.8 990.1 C1579.1 990.3 1581.5 990.5 1583.9 990.6 C1586.2 990.8 1588.6 990.9 1590.9 991.1 C1593.3 991.2 1595.6 991.3 1598.0 991.4 C1600.4 991.6 1602.7 991.7 1605.1 991.8 C1607.5 991.9 1609.8 992.0 1612.2 992.1 C1614.6 992.2 1617.0 992.2 1619.3 992.3 C1621.7 992.4 1624.1 992.5 1626.5 992.6 C1628.8 992.6 1631.2 992.7 1633.6 992.8 C1635.9 992.9 1638.3 992.9 1640.7 993.0 C1643.1 993.1 1645.5 993.1 1647.8 993.2 C1650.2 993.3 1652.6 993.3 1654.9 993.4 C1657.3 993.5 1659.7 993.5 1662.1 993.6 C1664.4 993.7 1666.8 993.7 1669.2 993.8 C1671.6 993.9 1673.9 994.0 1676.3 994.1 C1678.7 994.1 1681.0 994.2 1683.4 994.3 C1685.8 994.4 1688.1 994.5 1690.5 994.6 C1692.8 994.7 1695.2 994.9 1697.5 995.0 C1699.9 995.1 1702.3 995.2 1704.6 995.4 C1707.0 995.5 1709.3 995.7 1711.7 995.8 C1714.0 996.0 1716.3 996.2 1718.7 996.3 C1721.0 996.5 1723.4 996.7 1725.7 996.9 C1728.0 997.1 1730.3 997.4 1732.7 997.6 C1735.0 997.8 1737.3 998.1 1739.6 998.3 C1741.9 998.6 1744.3 998.9 1746.6 999.2 C1748.9 999.5 1751.2 999.8 1753.5 1000.1 C1755.8 1000.4 1758.1 1000.7 1760.3 1001.1 C1762.6 1001.5 1764.9 1001.8 1767.2 1002.2 C1769.5 1002.6 1772.9 1003.3 1774.0 1003.5" stroke="#e31f2b" stroke-width="9.7" fill="none" stroke-linecap="butt" stroke-linejoin="round"/>
<path d="M832.0 369.4 C831.2 370.3 828.5 372.8 827.0 374.7 C825.5 376.6 824.2 378.5 822.9 380.5 C821.7 382.6 820.6 384.7 819.7 386.8 C818.8 389.0 818.0 391.2 817.3 393.5 C816.7 395.7 816.2 398.0 815.8 400.3 C815.4 402.7 815.1 405.0 815.0 407.4 C814.9 409.7 814.9 412.1 815.0 414.5 C815.1 416.8 815.4 419.2 815.7 421.5 C816.1 423.8 816.5 426.2 817.1 428.4 C817.7 430.7 818.4 432.9 819.2 435.1 C820.0 437.3 820.9 439.4 822.0 441.5 C823.0 443.5 824.1 445.6 825.3 447.5 C826.5 449.5 827.8 451.4 829.2 453.3 C830.5 455.1 832.0 456.9 833.5 458.7 C835.1 460.4 836.7 462.1 838.3 463.8 C840.0 465.4 841.8 467.0 843.5 468.5 C845.3 470.0 847.2 471.5 849.1 472.9 C851.0 474.4 852.9 475.7 854.9 477.0 C856.9 478.3 859.0 479.6 861.0 480.8 C863.1 482.0 865.2 483.1 867.3 484.2 C869.4 485.3 871.6 486.3 873.7 487.3 C875.9 488.3 878.1 489.2 880.2 490.0 C882.4 490.9 884.6 491.7 886.8 492.5 C889.1 493.2 891.3 493.9 893.5 494.6 C895.8 495.2 898.0 495.8 900.3 496.4 C902.5 496.9 904.8 497.4 907.1 497.9 C909.4 498.4 911.7 498.8 914.0 499.2 C916.3 499.6 918.6 499.9 920.9 500.3 C923.2 500.6 925.6 500.8 927.9 501.1 C930.2 501.3 932.6 501.5 934.9 501.7 C937.3 501.9 939.6 502.0 942.0 502.2 C944.4 502.3 946.7 502.4 949.1 502.4 C951.5 502.5 953.8 502.5 956.2 502.6 C958.6 502.6 961.0 502.6 963.3 502.6 C965.7 502.5 968.1 502.5 970.5 502.4 C972.9 502.4 975.2 502.3 977.6 502.2 C980.0 502.1 982.4 502.0 984.8 501.9 C987.1 501.8 989.5 501.7 991.9 501.6 C994.3 501.4 996.7 501.3 999.0 501.1 C1001.4 501.0 1003.8 500.9 1006.1 500.7 C1008.5 500.5 1010.9 500.4 1013.3 500.2 C1015.6 500.0 1018.0 499.8 1020.3 499.7 C1022.7 499.5 1025.1 499.3 1027.4 499.1 C1029.8 498.9 1032.1 498.7 1034.5 498.5 C1036.9 498.3 1039.2 498.0 1041.6 497.8 C1043.9 497.6 1046.3 497.4 1048.6 497.1 C1051.0 496.9 1053.3 496.7 1055.6 496.4 C1058.0 496.2 1060.3 495.9 1062.7 495.7 C1065.0 495.5 1067.4 495.2 1069.7 494.9 C1072.0 494.7 1074.4 494.4 1076.7 494.2 C1079.0 493.9 1081.4 493.6 1083.7 493.4 C1086.0 493.1 1088.4 492.8 1090.7 492.6 C1093.0 492.3 1095.3 492.0 1097.7 491.7 C1100.0 491.5 1102.3 491.2 1104.6 490.9 C1106.9 490.6 1109.3 490.4 1111.6 490.1 C1113.9 489.8 1116.2 489.5 1118.5 489.2 C1120.8 488.9 1123.2 488.7 1125.5 488.4 C1127.8 488.1 1130.1 487.8 1132.4 487.5 C1134.7 487.2 1137.0 487.0 1139.3 486.7 C1141.7 486.4 1144.0 486.1 1146.3 485.8 C1148.6 485.6 1150.9 485.3 1153.2 485.0 C1155.5 484.7 1157.8 484.5 1160.1 484.2 C1162.4 483.9 1164.7 483.7 1167.1 483.4 C1169.4 483.1 1171.7 482.9 1174.0 482.6 C1176.3 482.3 1178.6 482.1 1180.9 481.8 C1183.2 481.6 1185.5 481.3 1187.9 481.1 C1190.2 480.9 1192.5 480.6 1194.8 480.4 C1197.1 480.1 1199.4 479.9 1201.7 479.7 C1204.1 479.5 1206.4 479.2 1208.7 479.0 C1211.0 478.8 1213.3 478.6 1215.6 478.4 C1218.0 478.2 1220.3 478.0 1222.6 477.8 C1224.9 477.6 1227.3 477.4 1229.6 477.3 C1231.9 477.1 1234.3 476.9 1236.6 476.8 C1238.9 476.6 1241.2 476.5 1243.6 476.3 C1245.9 476.2 1248.3 476.0 1250.6 475.9 C1252.9 475.8 1255.3 475.6 1257.6 475.5 C1260.0 475.4 1262.3 475.3 1264.7 475.2 C1267.0 475.1 1269.4 475.0 1271.7 475.0 C1274.1 474.9 1276.5 474.8 1278.8 474.8 C1281.2 474.7 1283.6 474.7 1285.9 474.7 C1288.3 474.6 1290.7 474.6 1293.0 474.6 C1295.4 474.6 1297.8 474.6 1300.2 474.6 C1302.6 474.6 1305.0 474.6 1307.4 474.7 C1309.8 474.7 1312.1 474.7 1314.5 474.8 C1316.9 474.9 1319.4 474.9 1321.8 475.0 C1324.2 475.1 1326.6 475.2 1329.0 475.3 C1331.4 475.5 1333.8 475.6 1336.2 475.7 C1338.6 475.9 1341.0 476.1 1343.4 476.3 C1345.8 476.4 1348.2 476.6 1350.6 476.9 C1353.0 477.1 1355.4 477.3 1357.8 477.6 C1360.2 477.9 1362.6 478.1 1365.0 478.5 C1367.4 478.8 1369.8 479.1 1372.1 479.4 C1374.5 479.8 1376.9 480.2 1379.2 480.6 C1381.6 481.0 1383.9 481.4 1386.3 481.8 C1388.6 482.3 1390.9 482.7 1393.3 483.2 C1395.6 483.7 1397.9 484.3 1400.2 484.8 C1402.5 485.4 1404.8 486.0 1407.1 486.6 C1409.3 487.2 1411.6 487.8 1413.8 488.5 C1416.1 489.2 1418.3 489.9 1420.5 490.6 C1422.8 491.3 1425.0 492.1 1427.2 492.9 C1429.3 493.7 1431.5 494.5 1433.7 495.4 C1435.8 496.3 1437.9 497.2 1440.1 498.1 C1442.2 499.0 1444.3 500.0 1446.4 501.0 C1448.4 502.0 1450.5 503.0 1452.5 504.1 C1454.6 505.2 1456.6 506.3 1458.6 507.5 C1460.6 508.6 1462.5 509.8 1464.5 511.1 C1466.4 512.3 1468.3 513.6 1470.2 514.9 C1472.1 516.2 1474.0 517.6 1475.8 519.0 C1477.7 520.4 1479.5 521.8 1481.3 523.3 C1483.1 524.8 1484.8 526.3 1486.6 527.9 C1488.3 529.5 1490.0 531.1 1491.7 532.8 C1493.3 534.4 1495.0 536.1 1496.6 537.9 C1498.2 539.6 1499.7 541.4 1501.2 543.3 C1502.7 545.1 1504.2 547.0 1505.6 548.9 C1507.0 550.8 1508.3 552.7 1509.6 554.7 C1510.9 556.6 1512.1 558.7 1513.2 560.7 C1514.4 562.7 1515.5 564.8 1516.5 566.9 C1517.5 569.0 1518.4 571.1 1519.3 573.3 C1520.1 575.5 1520.9 577.6 1521.6 579.8 C1522.3 582.1 1522.9 584.3 1523.5 586.5 C1524.1 588.8 1524.7 591.1 1525.2 593.3 C1525.7 595.6 1526.2 597.9 1526.6 600.2 C1527.1 602.6 1527.5 604.9 1527.9 607.2 C1528.3 609.6 1528.7 611.9 1529.1 614.2 C1529.5 616.6 1529.9 619.0 1530.3 621.3 C1530.7 623.7 1531.2 626.0 1531.6 628.4 C1532.0 630.7 1532.5 633.1 1533.0 635.4 C1533.5 637.8 1534.0 640.1 1534.5 642.5 C1535.0 644.8 1535.6 647.1 1536.1 649.5 C1536.7 651.8 1537.3 654.1 1537.9 656.4 C1538.5 658.8 1539.1 661.1 1539.8 663.4 C1540.5 665.6 1541.2 667.9 1541.9 670.2 C1542.6 672.5 1543.3 674.7 1544.1 677.0 C1544.9 679.2 1545.7 681.4 1546.5 683.6 C1547.4 685.8 1548.2 688.0 1549.1 690.2 C1550.0 692.3 1551.0 694.5 1551.9 696.6 C1552.9 698.7 1553.9 700.9 1554.9 702.9 C1556.0 705.0 1557.0 707.1 1558.1 709.1 C1559.2 711.1 1560.4 713.1 1561.6 715.1 C1562.8 717.1 1564.0 719.0 1565.3 721.0 C1566.5 722.9 1567.8 724.8 1569.2 726.6 C1570.5 728.5 1571.9 730.3 1573.3 732.1 C1574.8 733.9 1576.3 735.7 1577.8 737.4 C1579.3 739.1 1580.9 740.8 1582.5 742.4 C1584.1 744.1 1585.8 745.7 1587.5 747.3 C1589.2 748.8 1590.9 750.4 1592.7 751.9 C1594.5 753.4 1596.3 754.9 1598.2 756.3 C1600.0 757.7 1601.9 759.1 1603.9 760.5 C1605.8 761.8 1607.8 763.1 1609.8 764.4 C1611.8 765.7 1613.8 767.0 1615.9 768.2 C1617.9 769.4 1620.0 770.6 1622.1 771.8 C1624.2 772.9 1626.3 774.0 1628.5 775.1 C1630.7 776.2 1632.8 777.3 1635.0 778.3 C1637.2 779.3 1639.4 780.3 1641.7 781.3 C1643.9 782.2 1646.1 783.1 1648.4 784.0 C1650.7 784.9 1652.9 785.8 1655.2 786.6 C1657.5 787.5 1659.8 788.3 1662.1 789.0 C1664.4 789.8 1666.7 790.5 1669.0 791.2 C1671.3 792.0 1673.6 792.6 1675.9 793.3 C1678.2 793.9 1680.6 794.6 1682.9 795.2 C1685.2 795.8 1687.5 796.3 1689.8 796.9 C1692.1 797.4 1694.4 797.9 1696.7 798.4 C1699.0 798.9 1701.3 799.3 1703.5 799.8 C1705.8 800.2 1708.1 800.6 1710.3 801.0 C1712.6 801.3 1714.8 801.7 1717.0 802.0 C1719.2 802.3 1722.5 802.8 1723.6 802.9" stroke="#6dc8ef" stroke-width="9.7" fill="none" stroke-linecap="butt" stroke-linejoin="round"/>
<path d="M1118.0 642.3 C1119.2 642.2 1123.0 641.7 1125.5 641.6 C1127.9 641.5 1130.4 641.6 1132.7 641.8 C1135.1 642.0 1137.5 642.4 1139.8 642.9 C1142.1 643.4 1144.3 644.1 1146.5 644.9 C1148.7 645.6 1150.9 646.5 1153.0 647.5 C1155.1 648.6 1157.2 649.7 1159.1 650.9 C1161.1 652.1 1163.1 653.5 1164.9 654.9 C1166.8 656.3 1168.6 657.9 1170.4 659.5 C1172.1 661.0 1173.8 662.7 1175.4 664.5 C1177.0 666.2 1178.5 668.0 1180.0 669.9 C1181.4 671.8 1182.8 673.7 1184.1 675.7 C1185.4 677.7 1186.7 679.7 1187.8 681.8 C1188.9 683.8 1190.0 685.9 1191.0 688.0 C1191.9 690.2 1192.8 692.3 1193.7 694.5 C1194.5 696.7 1195.2 698.9 1195.9 701.1 C1196.6 703.4 1197.3 705.6 1197.8 707.9 C1198.4 710.2 1198.9 712.5 1199.4 714.8 C1199.8 717.1 1200.2 719.5 1200.6 721.8 C1201.0 724.2 1201.3 726.6 1201.6 728.9 C1201.9 731.3 1202.1 733.7 1202.3 736.1 C1202.5 738.5 1202.7 740.9 1202.9 743.3 C1203.1 745.8 1203.2 748.2 1203.3 750.6 C1203.4 753.0 1203.5 755.4 1203.6 757.9 C1203.7 760.3 1203.8 762.7 1203.9 765.1 C1204.0 767.5 1204.0 769.9 1204.1 772.3 C1204.2 774.8 1204.3 777.1 1204.4 779.5 C1204.5 781.9 1204.6 784.3 1204.7 786.7 C1204.8 789.0 1204.9 791.4 1205.1 793.7 C1205.2 796.1 1205.3 798.4 1205.5 800.7 C1205.6 803.0 1205.7 805.4 1205.9 807.7 C1206.0 810.0 1206.2 812.3 1206.3 814.6 C1206.5 816.9 1206.6 819.2 1206.7 821.5 C1206.9 823.8 1207.0 826.1 1207.1 828.4 C1207.2 830.8 1207.3 833.1 1207.4 835.4 C1207.5 837.7 1207.6 840.0 1207.7 842.3 C1207.8 844.6 1207.9 846.9 1207.9 849.2 C1207.9 851.6 1208.0 853.9 1208.0 856.2 C1208.0 858.6 1208.0 860.9 1208.0 863.2 C1207.9 865.6 1207.9 868.0 1207.8 870.3 C1207.7 872.7 1207.6 875.1 1207.5 877.5 C1207.4 879.9 1207.2 882.3 1207.1 884.7 C1206.9 887.1 1206.6 889.6 1206.4 892.0 C1206.2 894.5 1205.9 896.9 1205.7 899.4 C1205.4 901.9 1205.1 904.3 1204.8 906.8 C1204.6 909.3 1204.3 911.8 1204.0 914.2 C1203.8 916.7 1203.5 919.2 1203.3 921.7 C1203.1 924.1 1202.9 926.6 1202.7 929.0 C1202.6 931.5 1202.4 933.9 1202.3 936.4 C1202.3 938.8 1202.2 941.2 1202.2 943.6 C1202.3 946.0 1202.3 948.4 1202.5 950.7 C1202.6 953.1 1202.8 955.4 1203.1 957.7 C1203.4 960.0 1203.8 962.3 1204.2 964.6 C1204.7 966.8 1205.2 969.0 1205.9 971.2 C1206.5 973.4 1207.3 975.5 1208.2 977.6 C1209.0 979.7 1210.0 981.8 1211.1 983.8 C1212.1 985.8 1213.3 987.7 1214.6 989.6 C1215.9 991.5 1217.3 993.3 1218.7 995.0 C1220.2 996.7 1221.8 998.3 1223.5 999.9 C1225.1 1001.4 1226.9 1002.8 1228.8 1004.1 C1230.6 1005.4 1232.6 1006.6 1234.6 1007.7 C1236.7 1008.8 1238.8 1009.7 1241.0 1010.6 C1243.1 1011.5 1245.3 1012.3 1247.6 1013.1 C1249.8 1013.9 1252.1 1014.6 1254.4 1015.2 C1256.7 1015.9 1259.0 1016.5 1261.3 1017.1 C1263.6 1017.7 1265.9 1018.3 1268.3 1018.9 C1270.6 1019.4 1272.9 1019.9 1275.2 1020.4 C1277.5 1020.9 1279.9 1021.4 1282.2 1021.8 C1284.5 1022.2 1286.8 1022.6 1289.2 1023.0 C1291.5 1023.4 1293.9 1023.8 1296.2 1024.1 C1298.6 1024.4 1300.9 1024.8 1303.2 1025.0 C1305.6 1025.3 1308.0 1025.6 1310.3 1025.9 C1312.7 1026.1 1315.0 1026.4 1317.4 1026.6 C1319.7 1026.8 1322.1 1027.0 1324.5 1027.2 C1326.8 1027.4 1329.2 1027.5 1331.6 1027.7 C1333.9 1027.8 1336.3 1028.0 1338.7 1028.1 C1341.1 1028.2 1343.4 1028.3 1345.8 1028.4 C1348.2 1028.5 1350.6 1028.6 1352.9 1028.7 C1355.3 1028.8 1357.7 1028.8 1360.1 1028.9 C1362.5 1029.0 1364.8 1029.0 1367.2 1029.1 C1369.6 1029.1 1372.0 1029.1 1374.4 1029.2 C1376.7 1029.2 1379.1 1029.2 1381.5 1029.2 C1383.9 1029.3 1386.3 1029.3 1388.7 1029.3 C1391.0 1029.3 1393.4 1029.3 1395.8 1029.3 C1398.2 1029.4 1400.6 1029.4 1402.9 1029.4 C1405.3 1029.4 1407.7 1029.4 1410.1 1029.4 C1412.5 1029.4 1414.8 1029.4 1417.2 1029.4 C1419.6 1029.5 1422.0 1029.5 1424.3 1029.5 C1426.7 1029.5 1429.1 1029.5 1431.5 1029.5 C1433.9 1029.5 1436.2 1029.5 1438.6 1029.5 C1441.0 1029.6 1443.3 1029.6 1445.7 1029.6 C1448.1 1029.6 1450.5 1029.6 1452.8 1029.6 C1455.2 1029.6 1457.6 1029.6 1460.0 1029.6 C1462.3 1029.6 1464.7 1029.6 1467.1 1029.6 C1469.4 1029.6 1471.8 1029.6 1474.2 1029.7 C1476.5 1029.7 1478.9 1029.7 1481.3 1029.7 C1483.6 1029.7 1486.0 1029.7 1488.4 1029.7 C1490.7 1029.7 1493.1 1029.7 1495.5 1029.7 C1497.8 1029.7 1500.2 1029.7 1502.6 1029.7 C1504.9 1029.6 1507.3 1029.6 1509.7 1029.6 C1512.0 1029.6 1514.4 1029.6 1516.8 1029.6 C1519.1 1029.6 1521.5 1029.6 1523.9 1029.6 C1526.2 1029.6 1528.6 1029.6 1531.0 1029.5 C1533.3 1029.5 1535.7 1029.5 1538.0 1029.5 C1540.4 1029.5 1542.8 1029.5 1545.1 1029.4 C1547.5 1029.4 1549.9 1029.4 1552.2 1029.4 C1554.6 1029.3 1556.9 1029.3 1559.3 1029.3 C1561.7 1029.3 1564.0 1029.2 1566.4 1029.2 C1568.7 1029.2 1571.1 1029.1 1573.5 1029.1 C1575.8 1029.1 1578.2 1029.0 1580.6 1029.0 C1582.9 1028.9 1585.3 1028.9 1587.6 1028.8 C1590.0 1028.8 1592.4 1028.8 1594.7 1028.7 C1597.1 1028.7 1599.4 1028.6 1601.8 1028.6 C1604.2 1028.5 1606.5 1028.4 1608.9 1028.4 C1611.2 1028.3 1613.6 1028.3 1616.0 1028.2 C1618.3 1028.1 1620.7 1028.1 1623.0 1028.0 C1625.4 1027.9 1627.8 1027.9 1630.1 1027.8 C1632.5 1027.7 1634.8 1027.6 1637.2 1027.6 C1639.6 1027.5 1641.9 1027.4 1644.3 1027.3 C1646.6 1027.2 1649.0 1027.2 1651.4 1027.1 C1653.7 1027.0 1656.1 1026.9 1658.5 1026.8 C1660.8 1026.7 1663.2 1026.6 1665.5 1026.5 C1667.9 1026.4 1670.3 1026.3 1672.6 1026.2 C1675.0 1026.1 1677.3 1025.9 1679.7 1025.8 C1682.1 1025.7 1684.4 1025.6 1686.8 1025.5 C1689.2 1025.4 1691.5 1025.2 1693.9 1025.1 C1696.2 1025.0 1698.6 1024.8 1701.0 1024.7 C1703.3 1024.6 1705.7 1024.4 1708.1 1024.3 C1710.4 1024.1 1712.8 1024.0 1715.2 1023.8 C1717.5 1023.7 1719.9 1023.5 1722.3 1023.4 C1724.6 1023.2 1727.0 1023.1 1729.4 1022.9 C1731.7 1022.7 1734.1 1022.6 1736.5 1022.4 C1738.8 1022.2 1741.2 1022.0 1743.6 1021.9 C1745.9 1021.7 1748.3 1021.5 1750.7 1021.3 C1753.0 1021.1 1755.4 1020.9 1757.8 1020.7 C1760.1 1020.5 1762.5 1020.3 1764.9 1020.1 C1767.3 1019.9 1770.8 1019.6 1772.0 1019.5" stroke="#e31f2b" stroke-width="9.7" fill="none" stroke-linecap="butt" stroke-linejoin="round"/>
<path d="M1425.8 1146.0 C1427.0 1146.3 1430.6 1147.0 1433.0 1147.5 C1435.3 1148.0 1437.7 1148.6 1440.1 1149.1 C1442.4 1149.6 1444.7 1150.2 1447.1 1150.7 C1449.4 1151.3 1451.7 1151.9 1454.0 1152.4 C1456.3 1153.0 1458.6 1153.6 1460.9 1154.2 C1463.2 1154.8 1465.4 1155.3 1467.7 1155.9 C1470.0 1156.5 1472.2 1157.1 1474.5 1157.7 C1476.8 1158.3 1479.0 1158.9 1481.3 1159.6 C1483.5 1160.2 1485.8 1160.8 1488.0 1161.4 C1490.2 1162.0 1492.5 1162.6 1494.7 1163.2 C1497.0 1163.8 1499.2 1164.4 1501.4 1165.0 C1503.7 1165.6 1505.9 1166.2 1508.1 1166.8 C1510.4 1167.4 1512.6 1168.0 1514.8 1168.6 C1517.1 1169.2 1519.3 1169.7 1521.6 1170.3 C1523.8 1170.9 1526.1 1171.4 1528.3 1172.0 C1530.6 1172.5 1532.9 1173.1 1535.1 1173.6 C1537.4 1174.2 1539.7 1174.7 1542.0 1175.2 C1544.3 1175.7 1546.5 1176.2 1548.9 1176.7 C1551.2 1177.2 1553.5 1177.7 1555.8 1178.1 C1558.1 1178.6 1560.5 1179.0 1562.8 1179.5 C1565.2 1179.9 1567.5 1180.3 1569.9 1180.7 C1572.3 1181.1 1574.7 1181.5 1577.1 1181.8 C1579.5 1182.2 1581.9 1182.5 1584.3 1182.8 C1586.7 1183.1 1589.1 1183.4 1591.5 1183.6 C1593.9 1183.9 1596.4 1184.1 1598.8 1184.3 C1601.2 1184.4 1603.7 1184.6 1606.1 1184.7 C1608.5 1184.8 1610.9 1184.9 1613.3 1184.9 C1615.8 1184.9 1618.2 1184.9 1620.6 1184.8 C1623.0 1184.7 1625.4 1184.6 1627.7 1184.4 C1630.1 1184.2 1632.5 1184.0 1634.9 1183.7 C1637.2 1183.4 1639.6 1183.1 1641.9 1182.7 C1644.2 1182.2 1646.5 1181.8 1648.8 1181.2 C1651.1 1180.7 1653.3 1180.1 1655.6 1179.4 C1657.8 1178.8 1660.0 1178.0 1662.2 1177.2 C1664.4 1176.4 1666.6 1175.5 1668.7 1174.5 C1670.9 1173.6 1673.0 1172.5 1675.1 1171.4 C1677.1 1170.2 1679.2 1169.0 1681.2 1167.8 C1683.2 1166.5 1685.1 1165.1 1687.1 1163.7 C1689.0 1162.3 1690.9 1160.8 1692.7 1159.2 C1694.5 1157.7 1696.3 1156.0 1698.0 1154.4 C1699.8 1152.7 1701.4 1151.0 1703.1 1149.2 C1704.7 1147.4 1706.2 1145.6 1707.7 1143.7 C1709.2 1141.8 1710.7 1139.9 1712.0 1137.9 C1713.4 1136.0 1714.7 1134.0 1715.9 1131.9 C1717.1 1129.9 1718.3 1127.8 1719.3 1125.7 C1720.4 1123.7 1721.4 1121.5 1722.3 1119.4 C1723.2 1117.2 1724.0 1115.1 1724.7 1112.9 C1725.5 1110.7 1726.1 1108.5 1726.7 1106.3 C1727.2 1104.1 1727.7 1101.8 1728.0 1099.6 C1728.4 1097.4 1728.6 1095.1 1728.8 1092.9 C1728.9 1090.7 1729.0 1088.4 1728.9 1086.2 C1728.9 1084.0 1728.7 1081.8 1728.4 1079.5 C1728.1 1077.3 1727.7 1075.1 1727.2 1073.0 C1726.7 1070.8 1726.1 1068.6 1725.3 1066.5 C1724.5 1064.3 1723.6 1062.2 1722.6 1060.1 C1721.6 1058.0 1720.4 1056.0 1719.2 1053.9 C1717.9 1051.9 1716.5 1049.9 1715.0 1047.9 C1713.5 1046.0 1711.9 1044.0 1710.3 1042.1 C1708.7 1040.2 1707.0 1038.3 1705.2 1036.4 C1703.5 1034.5 1701.7 1032.7 1700.0 1030.8 C1698.2 1029.0 1696.5 1027.2 1694.7 1025.3 C1693.0 1023.5 1691.3 1021.7 1689.7 1019.9 C1688.0 1018.1 1686.4 1016.3 1684.8 1014.6 C1683.2 1012.8 1681.7 1011.0 1680.1 1009.2 C1678.6 1007.5 1677.1 1005.7 1675.6 1004.0 C1674.1 1002.2 1672.6 1000.4 1671.1 998.7 C1669.6 996.9 1668.2 995.1 1666.7 993.4 C1665.2 991.6 1663.8 989.9 1662.3 988.1 C1660.8 986.3 1659.3 984.5 1657.9 982.8 C1656.4 981.0 1654.9 979.2 1653.4 977.4 C1652.0 975.5 1650.5 973.7 1649.1 971.9 C1647.6 970.0 1646.2 968.2 1644.8 966.3 C1643.4 964.4 1642.1 962.5 1640.8 960.6 C1639.4 958.6 1638.2 956.7 1637.0 954.7 C1635.7 952.7 1634.6 950.6 1633.5 948.6 C1632.4 946.5 1631.3 944.4 1630.3 942.2 C1629.4 940.1 1628.5 937.9 1627.6 935.7 C1626.8 933.4 1626.1 931.2 1625.4 928.9 C1624.7 926.6 1624.2 924.2 1623.6 921.9 C1623.1 919.5 1622.7 917.1 1622.3 914.7 C1622.0 912.3 1621.7 909.9 1621.5 907.5 C1621.3 905.1 1621.2 902.7 1621.1 900.2 C1621.1 897.8 1621.1 895.4 1621.3 893.0 C1621.4 890.6 1621.6 888.1 1621.9 885.7 C1622.2 883.4 1622.5 881.0 1623.0 878.6 C1623.4 876.3 1624.0 873.9 1624.6 871.6 C1625.2 869.3 1625.9 867.1 1626.7 864.8 C1627.5 862.6 1628.3 860.4 1629.3 858.3 C1630.2 856.1 1631.3 854.0 1632.4 852.0 C1633.5 850.0 1634.7 848.0 1636.0 846.1 C1637.3 844.1 1638.7 842.3 1640.2 840.5 C1641.6 838.7 1643.2 837.0 1644.8 835.3 C1646.5 833.7 1648.2 832.1 1650.0 830.6 C1651.8 829.1 1653.6 827.7 1655.5 826.3 C1657.5 825.0 1659.4 823.7 1661.5 822.5 C1663.5 821.3 1665.6 820.2 1667.7 819.1 C1669.9 818.1 1672.1 817.1 1674.3 816.3 C1676.5 815.4 1678.8 814.6 1681.0 813.9 C1683.3 813.2 1685.6 812.5 1688.0 812.0 C1690.3 811.4 1692.7 811.0 1695.0 810.6 C1697.4 810.2 1699.8 809.9 1702.2 809.7 C1704.6 809.5 1707.0 809.4 1709.4 809.4 C1711.8 809.3 1714.1 809.4 1716.5 809.6 C1718.9 809.7 1722.4 810.2 1723.6 810.3" stroke="#ee9ac4" stroke-width="9.7" fill="none" stroke-linecap="butt" stroke-linejoin="round"/>
<path d="M378.0 50.0 C378.2 48.7 378.7 44.8 379.2 42.3 C379.8 39.9 380.6 37.6 381.6 35.4 C382.5 33.3 383.6 31.2 384.9 29.3 C386.1 27.4 387.5 25.6 389.0 23.9 C390.5 22.3 392.2 20.7 393.9 19.3 C395.7 17.9 397.5 16.5 399.5 15.4 C401.4 14.2 403.5 13.1 405.6 12.1 C407.7 11.1 409.9 10.3 412.1 9.5 C414.4 8.8 416.7 8.2 419.0 7.6 C421.4 7.1 423.8 6.7 426.1 6.4 C428.5 6.1 431.0 5.8 433.4 5.7 C435.8 5.6 438.3 5.6 440.7 5.7 C443.1 5.8 445.5 6.0 448.0 6.3 C450.4 6.5 452.8 6.9 455.2 7.4 C457.6 7.8 460.0 8.4 462.4 9.0 C464.7 9.6 467.1 10.4 469.4 11.2 C471.8 11.9 474.1 12.8 476.3 13.8 C478.6 14.7 480.9 15.8 483.1 16.9 C485.3 18.0 487.4 19.1 489.6 20.4 C491.7 21.6 493.8 22.9 495.8 24.3 C497.9 25.6 499.8 27.1 501.8 28.6 C503.7 30.0 505.6 31.6 507.4 33.2 C509.2 34.8 511.0 36.5 512.7 38.2 C514.4 39.9 516.0 41.6 517.6 43.4 C519.1 45.2 520.7 47.1 522.1 49.0 C523.5 50.9 524.9 52.8 526.2 54.8 C527.6 56.8 528.8 58.8 530.0 60.8 C531.2 62.9 532.3 65.0 533.4 67.1 C534.5 69.2 535.5 71.4 536.4 73.5 C537.3 75.7 538.2 77.9 539.0 80.2 C539.8 82.4 540.6 84.7 541.3 87.0 C541.9 89.2 542.6 91.5 543.1 93.9 C543.7 96.2 544.2 98.5 544.6 100.9 C545.0 103.2 545.4 105.6 545.7 108.0 C546.0 110.4 546.2 112.8 546.4 115.2 C546.6 117.6 546.7 120.0 546.8 122.4 C546.9 124.8 546.9 127.2 546.8 129.6 C546.8 132.1 546.8 134.5 546.6 136.9 C546.5 139.3 546.4 141.8 546.2 144.2 C546.1 146.6 545.8 149.0 545.6 151.4 C545.4 153.8 545.1 156.3 544.9 158.7 C544.6 161.1 544.3 163.5 544.0 165.8 C543.7 168.2 543.4 170.6 543.1 173.0 C542.8 175.3 542.4 178.8 542.2 180.0" stroke="#070707" stroke-width="10" fill="none" stroke-linecap="butt" stroke-linejoin="round"/>
<path d="M1117.0 651.0 C1117.8 651.9 1120.5 654.5 1122.1 656.3 C1123.6 658.2 1125.0 660.1 1126.3 662.1 C1127.6 664.0 1128.8 666.1 1129.9 668.1 C1131.0 670.2 1131.9 672.3 1132.8 674.5 C1133.6 676.6 1134.3 678.9 1134.9 681.1 C1135.6 683.3 1136.1 685.6 1136.5 687.9 C1136.9 690.2 1137.2 692.5 1137.4 694.8 C1137.6 697.2 1137.7 699.5 1137.7 701.9 C1137.8 704.2 1137.7 706.6 1137.5 709.0 C1137.4 711.4 1137.1 713.8 1136.8 716.1 C1136.4 718.5 1136.0 720.9 1135.5 723.3 C1135.0 725.6 1134.5 728.0 1133.8 730.3 C1133.2 732.6 1132.4 735.0 1131.6 737.2 C1130.9 739.5 1130.0 741.8 1129.1 744.0 C1128.2 746.2 1127.2 748.4 1126.1 750.6 C1125.1 752.7 1124.0 754.8 1122.8 756.9 C1121.7 759.0 1120.4 761.0 1119.2 762.9 C1117.9 764.9 1116.6 766.8 1115.2 768.7 C1113.9 770.5 1112.4 772.3 1111.0 774.1 C1109.5 775.9 1108.0 777.6 1106.5 779.3 C1104.9 780.9 1103.3 782.6 1101.7 784.2 C1100.0 785.7 1098.4 787.3 1096.6 788.8 C1094.9 790.3 1093.2 791.7 1091.4 793.1 C1089.6 794.5 1087.8 795.9 1085.9 797.2 C1084.0 798.6 1082.1 799.9 1080.2 801.1 C1078.3 802.4 1076.3 803.6 1074.3 804.7 C1072.3 805.9 1070.3 807.1 1068.2 808.2 C1066.2 809.3 1064.1 810.3 1062.0 811.3 C1059.9 812.4 1057.8 813.4 1055.6 814.3 C1053.5 815.3 1051.3 816.2 1049.1 817.1 C1046.9 818.0 1044.7 818.9 1042.4 819.7 C1040.2 820.5 1038.0 821.3 1035.7 822.1 C1033.4 822.9 1031.1 823.6 1028.8 824.3 C1026.5 825.1 1024.2 825.7 1021.9 826.4 C1019.6 827.1 1017.3 827.7 1014.9 828.3 C1012.6 828.9 1010.3 829.5 1007.9 830.1 C1005.5 830.6 1003.2 831.1 1000.8 831.7 C998.5 832.2 996.1 832.7 993.7 833.1 C991.4 833.6 989.0 834.0 986.6 834.5 C984.3 834.9 981.9 835.3 979.5 835.7 C977.2 836.1 974.8 836.5 972.5 836.8 C970.1 837.2 967.7 837.5 965.4 837.8 C963.0 838.1 960.7 838.4 958.3 838.7 C956.0 839.0 953.6 839.3 951.3 839.5 C948.9 839.7 946.6 840.0 944.3 840.2 C941.9 840.4 939.6 840.6 937.2 840.8 C934.9 841.0 932.5 841.1 930.2 841.3 C927.9 841.4 925.5 841.6 923.2 841.7 C920.9 841.8 918.5 841.9 916.2 842.0 C913.9 842.1 911.5 842.2 909.2 842.3 C906.9 842.4 904.5 842.4 902.2 842.5 C899.9 842.5 897.6 842.5 895.2 842.6 C892.9 842.6 890.6 842.6 888.3 842.6 C885.9 842.6 883.6 842.6 881.3 842.6 C879.0 842.5 876.6 842.5 874.3 842.5 C872.0 842.4 869.7 842.4 867.3 842.3 C865.0 842.2 862.7 842.2 860.4 842.1 C858.0 842.0 855.7 841.9 853.4 841.8 C851.1 841.7 848.7 841.6 846.4 841.5 C844.1 841.4 841.8 841.3 839.5 841.1 C837.1 841.0 834.8 840.9 832.5 840.7 C830.2 840.6 827.8 840.4 825.5 840.3 C823.2 840.1 820.9 840.0 818.5 839.8 C816.2 839.6 813.9 839.5 811.6 839.3 C809.2 839.1 806.9 839.0 804.6 838.8 C802.2 838.6 799.9 838.4 797.6 838.2 C795.3 838.0 792.9 837.8 790.6 837.6 C788.3 837.4 785.9 837.2 783.6 837.0 C781.3 836.8 778.9 836.6 776.6 836.4 C774.2 836.2 771.9 836.0 769.6 835.8 C767.2 835.6 764.9 835.4 762.5 835.2 C760.2 835.0 757.9 834.8 755.5 834.6 C753.2 834.4 750.8 834.2 748.5 833.9 C746.1 833.7 743.8 833.5 741.4 833.3 C739.1 833.1 736.7 832.9 734.3 832.7 C732.0 832.5 729.6 832.3 727.3 832.1 C724.9 831.9 722.5 831.7 720.2 831.6 C717.8 831.4 715.4 831.2 713.1 831.0 C710.7 830.8 708.3 830.6 706.0 830.5 C703.6 830.3 701.2 830.1 698.8 829.9 C696.4 829.8 694.1 829.6 691.7 829.5 C689.3 829.3 686.9 829.2 684.5 829.0 C682.1 828.9 679.7 828.7 677.3 828.6 C674.9 828.5 672.5 828.4 670.1 828.3 C667.7 828.2 665.3 828.1 663.0 828.0 C660.6 827.9 658.2 827.9 655.8 827.8 C653.4 827.8 651.0 827.8 648.6 827.8 C646.2 827.7 643.8 827.8 641.4 827.8 C639.0 827.8 636.7 827.9 634.3 827.9 C631.9 828.0 629.5 828.1 627.1 828.2 C624.8 828.4 622.4 828.5 620.1 828.7 C617.7 828.8 615.3 829.1 613.0 829.3 C610.6 829.5 608.3 829.8 606.0 830.1 C603.6 830.4 601.3 830.7 599.0 831.1 C596.7 831.4 594.3 831.8 592.0 832.2 C589.7 832.7 587.4 833.1 585.2 833.6 C582.9 834.2 580.6 834.7 578.3 835.3 C576.1 835.9 573.8 836.5 571.6 837.2 C569.3 837.8 567.1 838.6 564.9 839.3 C562.7 840.1 560.5 840.9 558.3 841.7 C556.1 842.6 553.9 843.5 551.7 844.4 C549.6 845.4 547.4 846.4 545.3 847.4 C543.2 848.5 541.1 849.6 539.0 850.7 C536.9 851.9 534.8 853.1 532.8 854.3 C530.8 855.6 528.8 856.8 526.9 858.2 C525.0 859.5 523.1 860.9 521.2 862.4 C519.4 863.8 517.6 865.3 515.9 866.8 C514.1 868.4 512.4 870.0 510.8 871.6 C509.2 873.3 507.7 874.9 506.2 876.7 C504.8 878.4 503.4 880.2 502.1 882.0 C500.7 883.8 499.5 885.7 498.4 887.6 C497.2 889.6 496.2 891.5 495.2 893.6 C494.2 895.6 493.4 897.6 492.6 899.7 C491.8 901.8 491.0 903.9 490.4 906.1 C489.7 908.3 489.2 910.5 488.7 912.7 C488.2 914.9 487.8 917.2 487.4 919.5 C487.1 921.8 486.8 924.1 486.6 926.4 C486.4 928.8 486.2 931.1 486.2 933.5 C486.1 935.8 486.0 938.2 486.1 940.6 C486.1 943.0 486.2 945.4 486.4 947.8 C486.5 950.2 486.7 952.7 487.0 955.1 C487.2 957.5 487.6 959.9 487.9 962.4 C488.3 964.8 488.7 967.2 489.1 969.6 C489.6 972.0 490.1 974.5 490.6 976.9 C491.1 979.2 491.7 981.6 492.3 984.0 C492.9 986.4 493.6 988.7 494.3 991.1 C495.0 993.4 495.7 995.7 496.4 998.0 C497.2 1000.3 497.9 1002.6 498.7 1004.8 C499.5 1007.1 500.4 1009.3 501.2 1011.5 C502.0 1013.7 502.9 1015.9 503.8 1018.1 C504.7 1020.3 505.6 1022.4 506.5 1024.6 C507.5 1026.7 508.4 1028.8 509.4 1031.0 C510.3 1033.1 511.3 1035.2 512.3 1037.3 C513.2 1039.4 514.2 1041.5 515.2 1043.6 C516.2 1045.7 517.2 1047.8 518.2 1049.9 C519.3 1052.0 520.3 1054.1 521.3 1056.2 C522.3 1058.3 523.3 1060.4 524.3 1062.5 C525.3 1064.6 526.3 1066.7 527.3 1068.8 C528.3 1070.9 529.3 1073.0 530.3 1075.2 C531.3 1077.3 532.3 1079.4 533.3 1081.6 C534.3 1083.7 535.2 1085.9 536.2 1088.0 C537.2 1090.2 538.1 1092.3 539.1 1094.5 C540.0 1096.7 540.9 1098.8 541.8 1101.0 C542.8 1103.2 543.7 1105.4 544.5 1107.6 C545.4 1109.7 546.3 1111.9 547.2 1114.1 C548.0 1116.3 548.9 1118.6 549.7 1120.8 C550.5 1123.0 551.3 1125.2 552.1 1127.4 C552.9 1129.6 553.7 1131.9 554.4 1134.1 C555.1 1136.3 555.9 1138.6 556.6 1140.8 C557.3 1143.1 557.9 1145.3 558.6 1147.6 C559.3 1149.8 559.9 1152.1 560.5 1154.4 C561.1 1156.6 561.7 1158.9 562.2 1161.2 C562.8 1163.5 563.3 1165.8 563.8 1168.1 C564.3 1170.3 564.7 1172.6 565.1 1174.9 C565.6 1177.2 566.0 1179.6 566.3 1181.9 C566.7 1184.2 567.0 1186.5 567.3 1188.8 C567.6 1191.1 567.9 1193.5 568.1 1195.8 C568.3 1198.1 568.5 1200.5 568.7 1202.8 C568.8 1205.2 568.9 1207.5 569.0 1209.9 C569.1 1212.2 569.1 1214.6 569.1 1216.9 C569.1 1219.3 569.1 1221.7 569.0 1224.1 C568.9 1226.4 568.7 1228.8 568.6 1231.2 C568.4 1233.6 568.2 1235.9 567.9 1238.3 C567.6 1240.7 567.3 1243.0 567.0 1245.4 C566.7 1247.8 566.3 1250.1 565.8 1252.5 C565.4 1254.8 564.9 1257.2 564.4 1259.5 C563.9 1261.8 563.3 1264.2 562.7 1266.5 C562.1 1268.8 561.5 1271.1 560.8 1273.4 C560.1 1275.6 559.4 1277.9 558.6 1280.2 C557.8 1282.4 557.0 1284.6 556.2 1286.8 C555.3 1289.0 554.4 1291.2 553.4 1293.4 C552.5 1295.5 551.5 1297.7 550.5 1299.8 C549.4 1301.9 548.4 1304.0 547.2 1306.0 C546.1 1308.0 544.9 1310.1 543.7 1312.1 C542.5 1314.0 541.3 1316.0 539.9 1317.9 C538.6 1319.8 537.3 1321.7 535.9 1323.6 C534.5 1325.4 533.1 1327.2 531.6 1329.0 C530.1 1330.7 528.6 1332.5 527.0 1334.2 C525.5 1335.8 523.8 1337.5 522.2 1339.1 C520.5 1340.7 518.8 1342.2 517.1 1343.7 C515.3 1345.2 513.5 1346.6 511.7 1348.0 C509.8 1349.4 508.0 1350.8 506.0 1352.1 C504.1 1353.4 502.1 1354.6 500.1 1355.8 C498.1 1357.0 496.0 1358.1 493.9 1359.1 C491.8 1360.2 489.6 1361.2 487.5 1362.2 C485.3 1363.1 483.1 1364.0 480.8 1364.8 C478.6 1365.7 476.3 1366.4 474.0 1367.1 C471.7 1367.8 469.4 1368.5 467.1 1369.0 C464.8 1369.6 462.4 1370.1 460.1 1370.6 C457.7 1371.0 455.3 1371.4 452.9 1371.7 C450.5 1372.0 448.2 1372.2 445.8 1372.4 C443.4 1372.6 441.0 1372.7 438.6 1372.7 C436.2 1372.8 433.8 1372.7 431.4 1372.6 C429.0 1372.5 426.6 1372.3 424.3 1372.1 C421.9 1371.8 419.6 1371.5 417.2 1371.1 C414.9 1370.7 412.6 1370.2 410.3 1369.6 C408.0 1369.1 405.7 1368.5 403.5 1367.7 C401.2 1367.0 399.0 1366.2 396.8 1365.4 C394.6 1364.5 392.5 1363.6 390.4 1362.5 C388.2 1361.5 386.2 1360.4 384.1 1359.2 C382.1 1358.0 380.1 1356.7 378.2 1355.3 C376.2 1354.0 373.4 1351.7 372.5 1351.0" stroke="#e31f2b" stroke-width="9.7" fill="none" stroke-linecap="butt" stroke-linejoin="round"/>
<path d="M752.7 947.2 C751.7 946.4 748.8 943.9 746.7 942.5 C744.7 941.0 742.6 939.7 740.5 938.5 C738.4 937.3 736.2 936.3 734.0 935.3 C731.8 934.4 729.6 933.6 727.4 932.9 C725.2 932.2 722.9 931.6 720.6 931.1 C718.3 930.7 716.1 930.3 713.8 930.1 C711.5 929.8 709.2 929.7 706.9 929.7 C704.5 929.7 702.2 929.8 699.9 930.0 C697.7 930.1 695.4 930.4 693.1 930.8 C690.8 931.2 688.5 931.7 686.3 932.3 C684.1 932.9 681.9 933.6 679.7 934.3 C677.5 935.1 675.3 936.0 673.2 936.9 C671.1 937.9 669.0 938.9 667.0 940.0 C665.0 941.1 663.0 942.3 661.0 943.6 C659.1 944.9 657.2 946.2 655.4 947.7 C653.6 949.1 651.8 950.6 650.1 952.2 C648.4 953.8 646.8 955.4 645.2 957.1 C643.7 958.8 642.2 960.6 640.8 962.5 C639.3 964.3 638.0 966.2 636.7 968.2 C635.4 970.1 634.2 972.1 633.0 974.2 C631.9 976.2 630.8 978.3 629.7 980.4 C628.7 982.6 627.7 984.7 626.8 987.0 C625.9 989.2 625.0 991.4 624.2 993.7 C623.4 996.0 622.7 998.3 622.0 1000.6 C621.3 1002.9 620.7 1005.2 620.1 1007.6 C619.6 1010.0 619.0 1012.3 618.6 1014.7 C618.1 1017.1 617.7 1019.5 617.3 1021.9 C616.9 1024.3 616.6 1026.7 616.3 1029.1 C616.1 1031.4 615.9 1033.8 615.7 1036.2 C615.5 1038.6 615.4 1041.0 615.3 1043.3 C615.2 1045.7 615.1 1048.0 615.1 1050.4 C615.1 1052.7 615.1 1055.0 615.2 1057.4 C615.2 1059.7 615.3 1062.0 615.4 1064.3 C615.5 1066.6 615.6 1069.0 615.8 1071.3 C615.9 1073.6 616.1 1075.9 616.2 1078.2 C616.4 1080.5 616.6 1082.8 616.8 1085.1 C617.0 1087.4 617.2 1089.7 617.4 1092.0 C617.6 1094.3 617.8 1096.6 618.0 1098.9 C618.2 1101.2 618.3 1103.5 618.5 1105.9 C618.7 1108.2 618.9 1110.5 619.1 1112.8 C619.2 1115.1 619.4 1117.5 619.6 1119.8 C619.7 1122.1 619.9 1124.5 620.0 1126.8 C620.2 1129.1 620.3 1131.5 620.4 1133.8 C620.6 1136.1 620.7 1138.5 620.8 1140.8 C620.9 1143.1 621.1 1145.5 621.2 1147.8 C621.3 1150.2 621.4 1152.5 621.4 1154.9 C621.5 1157.2 621.6 1159.6 621.7 1161.9 C621.7 1164.3 621.8 1166.6 621.9 1169.0 C621.9 1171.3 621.9 1173.7 622.0 1176.0 C622.0 1178.4 622.0 1180.7 622.0 1183.1 C622.0 1185.4 622.0 1187.8 622.0 1190.1 C622.0 1192.5 622.0 1194.8 621.9 1197.2 C621.9 1199.5 621.8 1201.9 621.8 1204.3 C621.7 1206.6 621.6 1209.0 621.5 1211.3 C621.4 1213.7 621.3 1216.0 621.2 1218.4 C621.1 1220.7 621.0 1223.1 620.8 1225.4 C620.7 1227.8 620.5 1230.1 620.3 1232.4 C620.1 1234.8 620.0 1237.1 619.7 1239.5 C619.5 1241.8 619.3 1244.2 619.1 1246.5 C618.8 1248.8 618.6 1251.2 618.3 1253.5 C618.0 1255.8 617.8 1258.2 617.5 1260.5 C617.1 1262.8 616.8 1265.1 616.5 1267.5 C616.1 1269.8 615.8 1272.1 615.4 1274.4 C615.0 1276.7 614.6 1279.1 614.2 1281.4 C613.8 1283.7 613.4 1286.0 612.9 1288.3 C612.5 1290.6 612.0 1292.9 611.5 1295.2 C611.1 1297.5 610.6 1299.8 610.1 1302.1 C609.6 1304.4 609.0 1306.7 608.5 1309.0 C608.0 1311.3 607.5 1313.6 607.0 1315.9 C606.5 1318.2 606.0 1320.5 605.5 1322.8 C605.0 1325.1 604.5 1327.4 604.0 1329.7 C603.5 1332.0 603.1 1334.3 602.6 1336.6 C602.2 1338.9 601.8 1341.2 601.4 1343.5 C601.0 1345.8 600.6 1348.2 600.2 1350.5 C599.9 1352.8 599.5 1355.2 599.2 1357.5 C599.0 1359.8 598.7 1362.2 598.5 1364.5 C598.3 1366.9 598.1 1369.3 597.9 1371.6 C597.8 1374.0 597.7 1376.4 597.7 1378.8 C597.6 1381.2 597.6 1383.6 597.7 1385.9 C597.8 1388.3 598.0 1390.7 598.2 1393.1 C598.5 1395.4 598.9 1397.8 599.3 1400.1 C599.8 1402.4 600.4 1404.7 601.1 1407.0 C601.8 1409.2 602.7 1411.5 603.6 1413.6 C604.5 1415.8 605.6 1417.9 606.8 1419.9 C607.9 1421.9 609.2 1423.9 610.5 1425.8 C611.9 1427.7 613.4 1429.5 614.9 1431.2 C616.4 1432.9 618.1 1434.5 619.8 1436.0 C621.5 1437.5 623.3 1438.9 625.1 1440.2 C627.0 1441.5 628.9 1442.6 630.9 1443.6 C632.9 1444.6 634.9 1445.5 637.0 1446.3 C639.1 1447.0 641.3 1447.7 643.5 1448.2 C645.7 1448.8 647.9 1449.2 650.2 1449.6 C652.5 1450.0 654.8 1450.2 657.2 1450.4 C659.5 1450.7 661.9 1450.8 664.3 1450.9 C666.8 1451.0 669.2 1451.0 671.6 1450.9 C674.1 1450.9 676.6 1450.9 679.0 1450.8 C681.5 1450.7 684.0 1450.5 686.5 1450.4 C688.9 1450.3 691.4 1450.1 693.9 1449.9 C696.4 1449.8 698.8 1449.6 701.3 1449.5 C703.7 1449.3 706.2 1449.2 708.6 1449.1 C711.0 1448.9 713.4 1448.8 715.8 1448.7 C718.2 1448.7 720.6 1448.6 722.9 1448.5 C725.3 1448.5 727.7 1448.4 730.0 1448.4 C732.4 1448.3 734.7 1448.3 737.0 1448.3 C739.3 1448.2 741.7 1448.2 744.0 1448.2 C746.3 1448.2 748.6 1448.2 750.9 1448.2 C753.2 1448.2 755.5 1448.2 757.8 1448.2 C760.1 1448.2 762.4 1448.2 764.7 1448.2 C767.0 1448.2 769.3 1448.2 771.6 1448.2 C773.9 1448.2 776.2 1448.2 778.5 1448.2 C780.8 1448.2 783.1 1448.3 785.4 1448.3 C787.7 1448.3 790.1 1448.3 792.4 1448.3 C794.7 1448.3 797.0 1448.4 799.3 1448.4 C801.6 1448.4 803.9 1448.4 806.2 1448.5 C808.6 1448.5 810.9 1448.5 813.2 1448.6 C815.5 1448.6 817.8 1448.7 820.2 1448.7 C822.5 1448.8 824.8 1448.8 827.1 1448.9 C829.5 1449.0 831.8 1449.0 834.1 1449.1 C836.4 1449.2 838.8 1449.3 841.1 1449.4 C843.4 1449.5 845.8 1449.6 848.1 1449.7 C850.4 1449.8 852.8 1450.0 855.1 1450.1 C857.5 1450.2 859.8 1450.4 862.1 1450.6 C864.5 1450.7 866.8 1450.9 869.2 1451.1 C871.5 1451.3 873.9 1451.5 876.2 1451.7 C878.6 1451.9 880.9 1452.1 883.3 1452.3 C885.7 1452.6 888.0 1452.8 890.4 1453.1 C892.7 1453.3 895.1 1453.6 897.5 1453.9 C899.8 1454.2 902.2 1454.5 904.6 1454.8 C907.0 1455.1 909.3 1455.5 911.7 1455.8 C914.1 1456.1 916.4 1456.4 918.8 1456.8 C921.2 1457.1 923.6 1457.5 925.9 1457.8 C928.3 1458.1 930.7 1458.5 933.1 1458.8 C935.4 1459.1 937.8 1459.5 940.2 1459.8 C942.5 1460.1 944.9 1460.4 947.3 1460.7 C949.6 1461.0 952.0 1461.3 954.4 1461.6 C956.7 1461.9 959.1 1462.2 961.5 1462.4 C963.8 1462.7 966.2 1462.9 968.5 1463.1 C970.9 1463.4 973.2 1463.6 975.6 1463.7 C977.9 1463.9 980.3 1464.1 982.6 1464.2 C985.0 1464.3 987.3 1464.4 989.6 1464.5 C992.0 1464.6 994.3 1464.6 996.6 1464.6 C998.9 1464.6 1001.2 1464.6 1003.5 1464.5 C1005.9 1464.5 1008.2 1464.4 1010.5 1464.3 C1012.8 1464.1 1015.0 1464.0 1017.3 1463.7 C1019.6 1463.5 1021.9 1463.3 1024.2 1463.0 C1026.4 1462.7 1028.7 1462.3 1030.9 1461.9 C1033.2 1461.5 1035.5 1461.1 1037.7 1460.6 C1039.9 1460.1 1042.2 1459.6 1044.4 1459.0 C1046.6 1458.4 1048.8 1457.7 1051.0 1457.0 C1053.2 1456.3 1055.4 1455.5 1057.6 1454.7 C1059.8 1453.9 1062.0 1453.0 1064.1 1452.1 C1066.3 1451.2 1068.4 1450.2 1070.5 1449.2 C1072.6 1448.2 1074.7 1447.1 1076.8 1446.0 C1078.9 1444.8 1081.0 1443.7 1083.0 1442.5 C1085.0 1441.3 1087.0 1440.0 1089.0 1438.7 C1091.0 1437.4 1093.0 1436.1 1094.9 1434.7 C1096.9 1433.3 1098.8 1431.9 1100.6 1430.4 C1102.5 1428.9 1104.4 1427.4 1106.2 1425.9 C1108.0 1424.3 1109.8 1422.7 1111.5 1421.1 C1113.3 1419.5 1115.0 1417.8 1116.7 1416.2 C1118.3 1414.5 1120.0 1412.7 1121.6 1411.0 C1123.2 1409.2 1124.7 1407.4 1126.2 1405.6 C1127.7 1403.8 1129.2 1401.9 1130.6 1400.1 C1132.1 1398.2 1133.4 1396.3 1134.8 1394.3 C1136.1 1392.4 1137.4 1390.4 1138.7 1388.4 C1139.9 1386.4 1141.1 1384.4 1142.3 1382.4 C1143.5 1380.4 1144.6 1378.3 1145.7 1376.2 C1146.8 1374.1 1147.8 1372.0 1148.8 1369.9 C1149.8 1367.8 1150.8 1365.6 1151.7 1363.5 C1152.7 1361.3 1153.6 1359.1 1154.4 1356.9 C1155.3 1354.7 1156.1 1352.5 1156.9 1350.3 C1157.6 1348.1 1158.4 1345.8 1159.1 1343.6 C1159.8 1341.3 1160.4 1339.0 1161.1 1336.8 C1161.7 1334.5 1162.3 1332.2 1162.9 1329.9 C1163.4 1327.6 1163.9 1325.3 1164.4 1323.0 C1164.9 1320.7 1165.4 1318.4 1165.8 1316.0 C1166.2 1313.7 1166.6 1311.4 1166.9 1309.1 C1167.3 1306.7 1167.6 1304.4 1167.9 1302.0 C1168.1 1299.7 1168.4 1297.4 1168.6 1295.0 C1168.8 1292.7 1169.0 1290.4 1169.2 1288.0 C1169.3 1285.7 1169.4 1283.3 1169.5 1281.0 C1169.6 1278.7 1169.7 1276.4 1169.7 1274.0 C1169.8 1271.7 1169.8 1269.4 1169.8 1267.1 C1169.8 1264.7 1169.8 1262.4 1169.8 1260.1 C1169.8 1257.8 1169.8 1255.4 1169.8 1253.1 C1169.8 1250.8 1169.7 1248.5 1169.7 1246.1 C1169.7 1243.8 1169.7 1241.5 1169.7 1239.2 C1169.7 1236.8 1169.7 1234.5 1169.7 1232.2 C1169.8 1229.8 1169.8 1227.5 1169.9 1225.2 C1170.0 1222.8 1170.1 1220.5 1170.2 1218.1 C1170.3 1215.8 1170.5 1213.4 1170.7 1211.0 C1170.9 1208.7 1171.1 1206.3 1171.4 1203.9 C1171.7 1201.6 1172.0 1199.2 1172.4 1196.8 C1172.8 1194.4 1173.2 1192.0 1173.7 1189.6 C1174.2 1187.2 1174.8 1184.8 1175.4 1182.4 C1176.0 1180.1 1176.7 1177.7 1177.4 1175.4 C1178.2 1173.0 1179.0 1170.8 1179.9 1168.5 C1180.8 1166.3 1181.8 1164.2 1182.9 1162.1 C1184.0 1160.1 1185.2 1158.1 1186.5 1156.3 C1187.7 1154.4 1189.1 1152.7 1190.6 1151.1 C1192.1 1149.5 1193.7 1148.1 1195.4 1146.8 C1197.1 1145.5 1199.0 1144.3 1200.9 1143.4 C1202.8 1142.5 1204.9 1141.7 1207.1 1141.2 C1209.2 1140.7 1211.5 1140.4 1213.8 1140.4 C1216.2 1140.4 1218.6 1140.6 1221.2 1141.1 C1223.7 1141.7 1227.7 1143.2 1229.0 1143.6" stroke="#bc7620" stroke-width="9.7" fill="none" stroke-linecap="butt" stroke-linejoin="round"/>
<path d="M748.5 371.1 C747.5 371.7 744.6 373.7 742.7 375.0 C740.7 376.3 738.8 377.6 736.9 379.0 C735.0 380.3 733.1 381.6 731.2 383.0 C729.3 384.4 727.4 385.7 725.5 387.1 C723.6 388.5 721.7 389.9 719.9 391.4 C718.0 392.8 716.2 394.2 714.3 395.6 C712.5 397.1 710.6 398.5 708.8 400.0 C707.0 401.5 705.2 403.0 703.4 404.5 C701.6 406.0 699.8 407.5 698.0 409.0 C696.2 410.5 694.5 412.0 692.7 413.6 C690.9 415.1 689.2 416.7 687.4 418.3 C685.7 419.8 684.0 421.4 682.3 423.0 C680.5 424.6 678.8 426.2 677.1 427.8 C675.4 429.4 673.7 431.1 672.1 432.7 C670.4 434.3 668.7 436.0 667.1 437.6 C665.4 439.3 663.8 441.0 662.1 442.7 C660.5 444.4 658.9 446.1 657.3 447.8 C655.6 449.5 654.0 451.2 652.5 452.9 C650.9 454.6 649.3 456.4 647.7 458.1 C646.1 459.9 644.6 461.6 643.0 463.4 C641.5 465.2 640.0 467.0 638.4 468.8 C636.9 470.6 635.4 472.4 633.9 474.2 C632.4 476.0 630.9 477.8 629.5 479.6 C628.0 481.5 626.5 483.3 625.1 485.2 C623.6 487.0 622.2 488.9 620.7 490.7 C619.3 492.6 617.9 494.5 616.5 496.4 C615.1 498.3 613.7 500.2 612.3 502.1 C610.9 504.0 609.6 505.9 608.2 507.8 C606.9 509.8 605.5 511.7 604.2 513.6 C602.9 515.6 601.5 517.5 600.2 519.5 C598.9 521.5 597.6 523.4 596.4 525.4 C595.1 527.4 593.8 529.4 592.6 531.4 C591.3 533.4 590.1 535.4 588.8 537.4 C587.6 539.4 586.4 541.4 585.2 543.4 C584.0 545.5 582.8 547.5 581.6 549.5 C580.5 551.6 579.3 553.6 578.2 555.7 C577.0 557.8 575.9 559.8 574.7 561.9 C573.6 564.0 572.5 566.0 571.4 568.1 C570.3 570.2 569.2 572.3 568.2 574.4 C567.1 576.5 566.1 578.6 565.0 580.7 C564.0 582.9 563.0 585.0 561.9 587.1 C560.9 589.2 559.9 591.4 558.9 593.5 C558.0 595.7 557.0 597.8 556.0 600.0 C555.1 602.1 554.1 604.3 553.2 606.4 C552.3 608.6 551.4 610.8 550.5 613.0 C549.6 615.1 548.7 617.3 547.8 619.5 C546.9 621.7 546.1 623.9 545.2 626.1 C544.4 628.3 543.6 630.5 542.8 632.7 C542.0 634.9 541.2 637.1 540.4 639.4 C539.6 641.6 538.8 643.8 538.1 646.0 C537.3 648.3 536.6 650.5 535.9 652.8 C535.1 655.0 534.4 657.2 533.8 659.5 C533.1 661.7 532.4 664.0 531.7 666.3 C531.1 668.5 530.4 670.8 529.8 673.1 C529.2 675.3 528.5 677.6 527.9 679.9 C527.3 682.2 526.8 684.4 526.2 686.7 C525.6 689.0 525.1 691.3 524.5 693.6 C524.0 695.9 523.5 698.2 523.0 700.5 C522.5 702.8 522.0 705.1 521.5 707.4 C521.0 709.7 520.6 712.0 520.1 714.3 C519.7 716.6 519.3 718.9 518.8 721.3 C518.4 723.6 518.0 725.9 517.6 728.2 C517.3 730.5 516.9 732.9 516.5 735.2 C516.2 737.5 515.9 739.9 515.5 742.2 C515.2 744.5 514.9 746.9 514.6 749.2 C514.3 751.5 514.1 753.9 513.8 756.2 C513.5 758.5 513.3 760.9 513.1 763.2 C512.8 765.6 512.6 767.9 512.4 770.3 C512.2 772.6 512.1 775.0 511.9 777.3 C511.7 779.7 511.6 782.0 511.4 784.4 C511.3 786.7 511.2 789.1 511.1 791.4 C511.0 793.8 510.9 796.1 510.8 798.5 C510.7 800.8 510.7 803.2 510.6 805.5 C510.6 807.9 510.5 810.2 510.5 812.6 C510.5 814.9 510.5 817.3 510.5 819.6 C510.6 822.0 510.6 824.4 510.6 826.7 C510.7 829.1 510.7 831.4 510.8 833.8 C510.9 836.1 511.0 838.5 511.1 840.8 C511.2 843.2 511.3 845.5 511.5 847.9 C511.6 850.2 511.8 852.6 511.9 854.9 C512.1 857.3 512.3 859.6 512.5 862.0 C512.7 864.3 512.9 866.6 513.1 869.0 C513.4 871.3 513.6 873.7 513.9 876.0 C514.1 878.3 514.4 880.7 514.7 883.0 C515.0 885.3 515.3 887.7 515.6 890.0 C515.9 892.3 516.2 894.7 516.6 897.0 C516.9 899.3 517.3 901.6 517.7 904.0 C518.1 906.3 518.5 908.6 518.9 910.9 C519.3 913.2 519.7 915.5 520.2 917.8 C520.6 920.1 521.1 922.5 521.5 924.8 C522.0 927.1 522.5 929.4 523.0 931.6 C523.5 933.9 524.0 936.2 524.5 938.5 C525.1 940.8 525.6 943.1 526.2 945.4 C526.7 947.7 527.3 949.9 527.9 952.2 C528.5 954.5 529.1 956.7 529.7 959.0 C530.3 961.3 531.0 963.5 531.6 965.8 C532.3 968.0 532.9 970.3 533.6 972.5 C534.3 974.8 535.0 977.0 535.7 979.3 C536.4 981.5 537.1 983.7 537.9 985.9 C538.6 988.2 539.4 990.4 540.1 992.6 C540.9 994.8 541.7 997.0 542.5 999.2 C543.3 1001.4 544.1 1003.6 544.9 1005.8 C545.8 1008.0 546.6 1010.2 547.5 1012.4 C548.3 1014.6 549.2 1016.7 550.1 1018.9 C551.0 1021.1 551.9 1023.2 552.8 1025.4 C553.7 1027.5 554.6 1029.7 555.6 1031.8 C556.5 1034.0 557.5 1036.1 558.5 1038.2 C559.4 1040.4 560.4 1042.5 561.4 1044.6 C562.5 1046.7 563.5 1048.8 564.5 1050.9 C565.5 1053.0 566.6 1055.1 567.7 1057.2 C568.7 1059.3 569.8 1061.4 570.9 1063.5 C572.0 1065.5 573.1 1067.6 574.2 1069.7 C575.3 1071.7 576.4 1073.8 577.6 1075.8 C578.7 1077.9 579.9 1079.9 581.0 1082.0 C582.2 1084.0 583.3 1086.0 584.5 1088.1 C585.7 1090.1 586.8 1092.2 588.0 1094.2 C589.2 1096.2 590.4 1098.2 591.6 1100.3 C592.8 1102.3 594.0 1104.3 595.2 1106.3 C596.4 1108.4 597.6 1110.4 598.8 1112.4 C600.0 1114.4 601.2 1116.4 602.4 1118.5 C603.6 1120.5 604.8 1122.5 606.0 1124.5 C607.2 1126.6 608.4 1128.6 609.6 1130.6 C610.8 1132.6 612.0 1134.6 613.2 1136.7 C614.4 1138.7 615.6 1140.7 616.8 1142.8 C618.0 1144.8 619.2 1146.8 620.3 1148.9 C621.5 1150.9 622.7 1153.0 623.8 1155.0 C625.0 1157.1 626.2 1159.1 627.3 1161.2 C628.4 1163.2 629.6 1165.3 630.7 1167.4 C631.8 1169.4 633.0 1171.5 634.1 1173.6 C635.2 1175.7 636.3 1177.8 637.3 1179.9 C638.4 1182.0 639.5 1184.1 640.5 1186.2 C641.6 1188.3 642.6 1190.4 643.6 1192.5 C644.7 1194.7 645.7 1196.8 646.7 1198.9 C647.7 1201.1 648.6 1203.2 649.6 1205.4 C650.5 1207.6 651.5 1209.7 652.4 1211.9 C653.3 1214.1 654.2 1216.3 655.1 1218.5 C655.9 1220.7 656.8 1222.9 657.6 1225.2 C658.5 1227.4 659.3 1229.6 660.1 1231.9 C660.9 1234.1 661.6 1236.4 662.4 1238.6 C663.1 1240.9 663.8 1243.1 664.5 1245.4 C665.2 1247.7 665.8 1250.0 666.5 1252.2 C667.1 1254.5 667.7 1256.8 668.3 1259.1 C668.9 1261.4 669.4 1263.7 669.9 1266.0 C670.4 1268.3 670.9 1270.6 671.4 1273.0 C671.8 1275.3 672.3 1277.6 672.6 1279.9 C673.0 1282.2 673.4 1284.6 673.7 1286.9 C674.0 1289.2 674.3 1291.5 674.6 1293.9 C674.8 1296.2 675.0 1298.5 675.2 1300.9 C675.4 1303.2 675.5 1305.5 675.7 1307.9 C675.8 1310.2 675.8 1312.5 675.9 1314.9 C675.9 1317.2 675.9 1319.5 675.8 1321.9 C675.8 1324.2 675.7 1326.5 675.5 1328.8 C675.4 1331.2 675.2 1333.5 675.0 1335.8 C674.8 1338.1 674.5 1340.4 674.2 1342.7 C673.9 1345.1 673.5 1347.4 673.1 1349.7 C672.7 1352.0 672.2 1354.3 671.7 1356.6 C671.3 1358.9 670.7 1361.1 670.1 1363.4 C669.5 1365.7 668.9 1368.0 668.2 1370.2 C667.5 1372.5 666.8 1374.7 666.0 1377.0 C665.2 1379.2 664.4 1381.5 663.5 1383.7 C662.7 1385.9 661.7 1388.1 660.8 1390.2 C659.8 1392.4 658.8 1394.6 657.8 1396.7 C656.7 1398.8 655.7 1401.0 654.5 1403.1 C653.4 1405.2 652.2 1407.2 651.0 1409.3 C649.8 1411.3 648.6 1413.3 647.3 1415.3 C646.0 1417.3 644.6 1419.3 643.3 1421.2 C641.9 1423.1 640.5 1425.0 639.0 1426.9 C637.6 1428.8 636.1 1430.6 634.6 1432.4 C633.0 1434.2 631.5 1435.9 629.9 1437.7 C628.3 1439.4 626.6 1441.1 625.0 1442.7 C623.3 1444.3 621.6 1445.9 619.8 1447.5 C618.1 1449.0 616.3 1450.6 614.5 1452.0 C612.7 1453.5 610.9 1454.9 609.0 1456.3 C607.1 1457.6 605.2 1459.0 603.2 1460.2 C601.3 1461.5 599.3 1462.7 597.3 1463.9 C595.3 1465.0 593.3 1466.2 591.2 1467.2 C589.1 1468.3 587.0 1469.3 584.9 1470.2 C582.8 1471.2 580.7 1472.1 578.5 1472.9 C576.3 1473.8 574.1 1474.6 571.9 1475.3 C569.7 1476.0 567.5 1476.7 565.3 1477.4 C563.0 1478.0 560.8 1478.6 558.5 1479.1 C556.2 1479.6 553.9 1480.1 551.6 1480.5 C549.3 1481.0 547.0 1481.3 544.7 1481.6 C542.4 1482.0 540.0 1482.2 537.7 1482.4 C535.4 1482.6 533.0 1482.8 530.7 1482.9 C528.3 1483.0 526.0 1483.0 523.6 1483.0 C521.3 1483.0 518.9 1483.0 516.6 1482.8 C514.2 1482.7 511.9 1482.6 509.5 1482.3 C507.2 1482.1 504.8 1481.8 502.5 1481.5 C500.2 1481.2 497.8 1480.8 495.5 1480.4 C493.2 1479.9 490.9 1479.4 488.6 1478.9 C486.3 1478.3 484.0 1477.7 481.7 1477.1 C479.5 1476.4 477.2 1475.7 475.0 1475.0 C472.8 1474.2 470.5 1473.4 468.3 1472.5 C466.1 1471.6 464.0 1470.7 461.8 1469.7 C459.6 1468.7 457.5 1467.7 455.4 1466.6 C453.3 1465.5 451.2 1464.4 449.1 1463.2 C447.1 1462.0 445.0 1460.8 443.0 1459.5 C441.0 1458.3 439.1 1456.9 437.1 1455.6 C435.2 1454.2 433.2 1452.8 431.3 1451.3 C429.5 1449.9 427.6 1448.3 425.8 1446.8 C424.0 1445.3 422.2 1443.7 420.4 1442.1 C418.7 1440.4 416.9 1438.8 415.3 1437.1 C413.6 1435.4 411.9 1433.7 410.3 1431.9 C408.7 1430.1 407.2 1428.3 405.6 1426.5 C404.1 1424.6 402.6 1422.8 401.2 1420.9 C399.7 1419.0 398.3 1417.1 397.0 1415.1 C395.6 1413.1 394.3 1411.2 393.1 1409.1 C391.8 1407.1 390.6 1405.1 389.4 1403.0 C388.2 1401.0 387.1 1398.9 386.1 1396.8 C385.0 1394.7 384.0 1392.5 383.0 1390.4 C382.0 1388.3 381.1 1386.1 380.3 1383.9 C379.4 1381.7 378.6 1379.5 377.8 1377.3 C377.1 1375.1 376.4 1372.8 375.8 1370.6 C375.1 1368.3 374.5 1366.0 374.0 1363.8 C373.5 1361.5 373.0 1359.2 372.6 1356.9 C372.2 1354.6 371.9 1352.3 371.6 1350.0 C371.4 1347.7 371.1 1344.2 371.0 1343.0" stroke="#8f2c9b" stroke-width="9.7" fill="none" stroke-linecap="butt" stroke-linejoin="round"/>
<path d="M535.0 238.0 C534.7 239.1 533.8 242.3 533.2 244.5 C532.6 246.7 532.0 248.9 531.4 251.2 C530.9 253.4 530.3 255.6 529.7 257.9 C529.2 260.1 528.7 262.4 528.1 264.7 C527.6 266.9 527.1 269.2 526.6 271.5 C526.1 273.8 525.6 276.1 525.2 278.4 C524.7 280.7 524.3 283.1 523.8 285.4 C523.4 287.7 523.0 290.1 522.6 292.4 C522.2 294.8 521.8 297.1 521.5 299.5 C521.1 301.9 520.8 304.2 520.5 306.6 C520.1 309.0 519.8 311.3 519.6 313.7 C519.3 316.1 519.0 318.5 518.8 320.9 C518.6 323.3 518.3 325.7 518.2 328.0 C518.0 330.4 517.8 332.8 517.7 335.2 C517.5 337.6 517.4 340.0 517.3 342.4 C517.2 344.8 517.1 347.2 517.1 349.6 C517.0 352.0 517.0 354.4 517.0 356.7 C517.1 359.1 517.1 361.5 517.2 363.9 C517.2 366.3 517.3 368.7 517.4 371.0 C517.6 373.4 517.7 375.8 517.9 378.1 C518.1 380.5 518.3 382.8 518.5 385.2 C518.8 387.5 519.0 389.9 519.3 392.2 C519.6 394.5 520.0 396.8 520.3 399.2 C520.7 401.5 521.1 403.8 521.6 406.1 C522.0 408.4 522.5 410.6 523.0 412.9 C523.5 415.2 524.0 417.4 524.6 419.7 C525.2 421.9 525.8 424.2 526.4 426.4 C527.1 428.6 527.8 430.8 528.5 433.0 C529.2 435.2 530.0 437.4 530.8 439.5 C531.6 441.7 532.4 443.8 533.3 446.0 C534.2 448.1 535.1 450.2 536.1 452.3 C537.1 454.4 538.1 456.4 539.1 458.5 C540.1 460.6 541.2 462.6 542.3 464.6 C543.4 466.6 544.6 468.6 545.8 470.6 C547.0 472.6 548.2 474.6 549.4 476.6 C550.7 478.5 551.9 480.5 553.2 482.4 C554.5 484.3 555.9 486.3 557.2 488.2 C558.6 490.1 560.0 492.0 561.4 493.8 C562.8 495.7 564.3 497.6 565.7 499.4 C567.2 501.3 568.7 503.1 570.2 505.0 C571.7 506.8 573.2 508.6 574.7 510.4 C576.3 512.2 577.8 514.0 579.4 515.8 C581.0 517.6 582.5 519.4 584.1 521.1 C585.7 522.9 587.4 524.7 589.0 526.4 C590.6 528.2 592.3 529.9 593.9 531.6 C595.5 533.4 597.2 535.1 598.9 536.8 C600.5 538.5 602.2 540.2 603.9 541.9 C605.5 543.6 607.2 545.3 608.9 547.0 C610.6 548.7 612.3 550.4 613.9 552.1 C615.6 553.7 617.3 555.4 619.0 557.1 C620.7 558.8 622.3 560.4 624.0 562.1 C625.7 563.8 627.4 565.4 629.0 567.1 C630.7 568.7 632.3 570.4 633.9 572.1 C635.6 573.8 637.2 575.4 638.7 577.2 C640.3 578.9 641.9 580.6 643.4 582.3 C644.9 584.1 646.4 585.8 647.8 587.6 C649.3 589.4 650.7 591.2 652.1 593.1 C653.4 594.9 654.7 596.8 656.0 598.8 C657.2 600.7 658.5 602.7 659.6 604.7 C660.8 606.7 661.9 608.7 662.9 610.8 C663.9 612.9 664.9 615.0 665.9 617.2 C666.8 619.3 667.7 621.5 668.5 623.7 C669.4 625.9 670.2 628.1 670.9 630.4 C671.6 632.6 672.3 634.9 673.0 637.2 C673.6 639.5 674.2 641.8 674.7 644.1 C675.3 646.4 675.7 648.7 676.2 651.1 C676.6 653.4 677.0 655.8 677.4 658.1 C677.7 660.5 678.1 662.8 678.3 665.2 C678.6 667.5 678.8 669.9 679.0 672.2 C679.2 674.6 679.3 677.0 679.4 679.3 C679.5 681.6 679.5 684.0 679.5 686.3 C679.5 688.7 679.5 691.0 679.4 693.3 C679.4 695.7 679.2 698.0 679.1 700.3 C679.0 702.7 678.8 705.0 678.6 707.3 C678.3 709.6 678.1 711.9 677.8 714.2 C677.5 716.6 677.2 718.9 676.9 721.2 C676.5 723.5 676.1 725.8 675.7 728.1 C675.3 730.4 674.9 732.7 674.4 734.9 C673.9 737.2 673.4 739.5 672.9 741.8 C672.4 744.1 671.8 746.4 671.2 748.6 C670.7 750.9 670.1 753.2 669.4 755.5 C668.8 757.7 668.1 760.0 667.5 762.2 C666.8 764.5 666.1 766.8 665.4 769.0 C664.7 771.3 663.9 773.5 663.2 775.8 C662.4 778.0 661.7 780.2 660.9 782.5 C660.1 784.7 659.3 787.0 658.5 789.2 C657.6 791.4 656.8 793.6 656.0 795.9 C655.1 798.1 654.2 800.3 653.4 802.5 C652.5 804.7 651.6 806.9 650.7 809.1 C649.8 811.4 648.9 813.6 648.0 815.8 C647.1 817.9 646.1 820.1 645.2 822.3 C644.3 824.5 643.3 826.7 642.4 828.9 C641.4 831.1 640.5 833.3 639.5 835.4 C638.6 837.6 637.6 839.8 636.7 841.9 C635.7 844.1 634.7 846.3 633.8 848.4 C632.8 850.6 631.8 852.7 630.9 854.9 C629.9 857.0 628.9 859.2 627.9 861.3 C626.9 863.5 625.9 865.6 624.9 867.7 C623.9 869.9 623.0 872.0 621.9 874.1 C620.9 876.3 619.9 878.4 618.9 880.5 C617.9 882.6 616.9 884.7 615.9 886.8 C614.9 889.0 613.8 891.1 612.8 893.2 C611.8 895.3 610.7 897.4 609.7 899.5 C608.6 901.6 607.6 903.7 606.5 905.7 C605.5 907.8 604.4 909.9 603.4 912.0 C602.3 914.1 601.2 916.2 600.2 918.2 C599.1 920.3 598.0 922.4 596.9 924.5 C595.8 926.5 594.7 928.6 593.6 930.6 C592.5 932.7 591.4 934.8 590.3 936.8 C589.2 938.9 588.1 940.9 587.0 943.0 C585.8 945.0 584.7 947.1 583.6 949.1 C582.4 951.2 581.3 953.2 580.1 955.2 C579.0 957.3 577.8 959.3 576.6 961.3 C575.5 963.4 574.3 965.4 573.1 967.4 C571.9 969.4 570.8 971.4 569.6 973.5 C568.4 975.5 567.2 977.5 566.0 979.5 C564.7 981.5 563.5 983.5 562.3 985.5 C561.1 987.5 559.9 989.5 558.6 991.5 C557.4 993.5 556.1 995.5 554.9 997.5 C553.6 999.5 552.4 1001.5 551.1 1003.5 C549.9 1005.5 548.6 1007.4 547.3 1009.4 C546.1 1011.4 544.8 1013.4 543.5 1015.4 C542.2 1017.3 540.9 1019.3 539.6 1021.3 C538.3 1023.2 537.0 1025.2 535.7 1027.2 C534.4 1029.1 533.1 1031.1 531.8 1033.0 C530.5 1035.0 529.2 1037.0 527.8 1038.9 C526.5 1040.9 525.2 1042.8 523.9 1044.8 C522.5 1046.7 521.2 1048.7 519.9 1050.6 C518.5 1052.5 517.2 1054.5 515.8 1056.4 C514.5 1058.4 513.1 1060.3 511.8 1062.2 C510.4 1064.2 509.1 1066.1 507.7 1068.0 C506.3 1069.9 505.0 1071.9 503.6 1073.8 C502.2 1075.7 500.9 1077.6 499.5 1079.6 C498.1 1081.5 496.7 1083.4 495.4 1085.3 C494.0 1087.2 492.6 1089.1 491.2 1091.0 C489.8 1093.0 488.4 1094.9 487.0 1096.8 C485.7 1098.7 484.3 1100.6 482.9 1102.5 C481.5 1104.4 480.1 1106.3 478.7 1108.2 C477.3 1110.1 475.9 1112.0 474.5 1113.9 C473.1 1115.7 471.7 1117.6 470.3 1119.5 C468.9 1121.4 467.5 1123.3 466.1 1125.2 C464.7 1127.1 463.3 1128.9 461.9 1130.8 C460.5 1132.7 459.1 1134.6 457.7 1136.5 C456.3 1138.3 454.8 1140.2 453.4 1142.1 C452.0 1144.0 450.6 1145.8 449.2 1147.7 C447.8 1149.6 445.7 1152.4 445.0 1153.3" stroke="#070707" stroke-width="10" fill="none" stroke-linecap="butt" stroke-linejoin="round"/>
<path d="M877.0 944.5 C877.5 943.3 879.0 939.6 880.2 937.4 C881.5 935.3 883.0 933.3 884.6 931.5 C886.3 929.7 888.1 928.1 890.0 926.7 C891.9 925.3 893.9 924.1 896.0 923.2 C898.1 922.2 900.4 921.4 902.6 920.8 C904.8 920.2 907.1 919.9 909.4 919.7 C911.7 919.6 914.0 919.6 916.2 919.9 C918.5 920.2 920.7 920.6 923.0 921.3 C925.2 921.9 927.4 922.7 929.5 923.6 C931.6 924.5 933.7 925.6 935.7 926.7 C937.7 927.9 939.7 929.1 941.6 930.4 C943.5 931.7 945.3 933.1 947.0 934.6 C948.8 936.1 950.4 937.6 952.0 939.2 C953.7 940.8 955.2 942.5 956.7 944.2 C958.2 945.9 959.6 947.7 960.9 949.6 C962.3 951.4 963.6 953.3 964.8 955.3 C966.0 957.2 967.2 959.2 968.3 961.3 C969.5 963.3 970.5 965.4 971.5 967.6 C972.5 969.7 973.5 971.9 974.4 974.1 C975.3 976.3 976.1 978.6 976.9 980.8 C977.8 983.1 978.5 985.4 979.2 987.7 C979.9 990.1 980.6 992.4 981.2 994.8 C981.8 997.2 982.4 999.5 982.9 1001.9 C983.4 1004.3 983.9 1006.8 984.4 1009.2 C984.8 1011.6 985.2 1014.0 985.6 1016.5 C985.9 1018.9 986.3 1021.4 986.6 1023.8 C986.9 1026.2 987.1 1028.7 987.4 1031.1 C987.6 1033.5 987.8 1035.9 988.0 1038.3 C988.1 1040.7 988.3 1043.1 988.4 1045.5 C988.5 1047.9 988.6 1050.3 988.6 1052.7 C988.7 1055.1 988.7 1057.4 988.8 1059.8 C988.8 1062.2 988.8 1064.5 988.8 1066.9 C988.8 1069.3 988.7 1071.6 988.7 1074.0 C988.7 1076.3 988.6 1078.6 988.5 1081.0 C988.5 1083.3 988.4 1085.7 988.3 1088.0 C988.3 1090.3 988.2 1092.6 988.1 1095.0 C988.0 1097.3 987.9 1099.6 987.9 1101.9 C987.8 1104.3 987.7 1106.6 987.6 1108.9 C987.5 1111.2 987.5 1113.5 987.4 1115.8 C987.3 1118.2 987.3 1120.5 987.3 1122.8 C987.2 1125.1 987.2 1127.4 987.2 1129.7 C987.2 1132.0 987.2 1134.4 987.2 1136.7 C987.2 1139.0 987.2 1141.3 987.3 1143.6 C987.4 1145.9 987.4 1148.3 987.6 1150.6 C987.7 1152.9 987.8 1155.2 988.0 1157.6 C988.1 1159.9 988.3 1162.2 988.5 1164.5 C988.7 1166.9 988.9 1169.2 989.2 1171.5 C989.5 1173.8 989.7 1176.2 990.0 1178.5 C990.4 1180.8 990.7 1183.1 991.0 1185.5 C991.4 1187.8 991.8 1190.1 992.2 1192.4 C992.6 1194.8 993.0 1197.1 993.5 1199.4 C993.9 1201.7 994.4 1204.0 994.9 1206.3 C995.4 1208.6 995.9 1210.9 996.5 1213.2 C997.0 1215.5 997.6 1217.8 998.2 1220.1 C998.8 1222.4 999.4 1224.7 1000.0 1227.0 C1000.7 1229.3 1001.3 1231.5 1002.0 1233.8 C1002.7 1236.1 1003.4 1238.3 1004.1 1240.6 C1004.9 1242.8 1005.6 1245.1 1006.4 1247.3 C1007.2 1249.6 1008.0 1251.8 1008.8 1254.0 C1009.7 1256.2 1010.5 1258.4 1011.4 1260.6 C1012.3 1262.8 1013.2 1265.0 1014.1 1267.2 C1015.0 1269.4 1015.9 1271.6 1016.9 1273.7 C1017.9 1275.9 1018.9 1278.1 1019.9 1280.2 C1020.9 1282.3 1021.9 1284.5 1023.0 1286.6 C1024.0 1288.7 1025.1 1290.8 1026.2 1292.9 C1027.3 1295.0 1028.4 1297.1 1029.6 1299.1 C1030.7 1301.2 1031.9 1303.3 1033.1 1305.3 C1034.3 1307.3 1035.5 1309.4 1036.7 1311.4 C1038.0 1313.4 1039.2 1315.4 1040.5 1317.4 C1041.8 1319.3 1043.1 1321.3 1044.4 1323.2 C1045.7 1325.2 1047.1 1327.1 1048.4 1329.0 C1049.8 1331.0 1051.2 1332.8 1052.6 1334.7 C1054.0 1336.6 1055.4 1338.5 1056.9 1340.3 C1058.3 1342.1 1059.8 1344.0 1061.3 1345.8 C1062.8 1347.6 1064.3 1349.4 1065.8 1351.1 C1067.4 1352.9 1068.9 1354.6 1070.5 1356.4 C1072.1 1358.1 1073.7 1359.8 1075.3 1361.5 C1076.9 1363.2 1078.6 1364.8 1080.2 1366.5 C1081.9 1368.1 1083.6 1369.7 1085.3 1371.3 C1087.0 1372.9 1088.7 1374.5 1090.4 1376.1 C1092.2 1377.6 1093.9 1379.2 1095.7 1380.7 C1097.5 1382.2 1099.3 1383.7 1101.1 1385.2 C1102.9 1386.7 1104.7 1388.1 1106.6 1389.6 C1108.4 1391.0 1110.3 1392.4 1112.2 1393.8 C1114.0 1395.2 1115.9 1396.6 1117.8 1398.0 C1119.8 1399.3 1121.7 1400.7 1123.6 1402.0 C1125.6 1403.3 1127.5 1404.6 1129.5 1405.9 C1131.5 1407.2 1133.5 1408.4 1135.5 1409.7 C1137.5 1410.9 1139.5 1412.2 1141.5 1413.4 C1143.5 1414.6 1145.6 1415.7 1147.6 1416.9 C1149.7 1418.1 1151.7 1419.2 1153.8 1420.3 C1155.9 1421.5 1158.0 1422.6 1160.1 1423.6 C1162.2 1424.7 1164.3 1425.8 1166.4 1426.8 C1168.6 1427.9 1170.7 1428.9 1172.8 1429.9 C1175.0 1430.9 1177.1 1431.9 1179.3 1432.9 C1181.5 1433.8 1183.6 1434.8 1185.8 1435.7 C1188.0 1436.7 1190.2 1437.6 1192.4 1438.5 C1194.6 1439.4 1196.8 1440.2 1199.0 1441.1 C1201.3 1441.9 1203.5 1442.8 1205.7 1443.6 C1208.0 1444.4 1210.2 1445.2 1212.5 1446.0 C1214.7 1446.8 1217.0 1447.5 1219.2 1448.3 C1221.5 1449.0 1223.8 1449.7 1226.0 1450.4 C1228.3 1451.1 1230.6 1451.8 1232.9 1452.5 C1235.2 1453.1 1237.4 1453.8 1239.7 1454.4 C1242.0 1455.1 1244.3 1455.7 1246.6 1456.3 C1248.9 1456.8 1251.2 1457.4 1253.6 1458.0 C1255.9 1458.5 1258.2 1459.1 1260.5 1459.6 C1262.8 1460.1 1265.1 1460.6 1267.5 1461.1 C1269.8 1461.6 1272.1 1462.0 1274.4 1462.5 C1276.7 1462.9 1279.1 1463.4 1281.4 1463.8 C1283.7 1464.2 1286.1 1464.6 1288.4 1464.9 C1290.7 1465.3 1293.0 1465.7 1295.4 1466.0 C1297.7 1466.4 1300.0 1466.7 1302.3 1467.0 C1304.7 1467.3 1307.0 1467.6 1309.3 1467.8 C1311.6 1468.1 1314.0 1468.3 1316.3 1468.6 C1318.6 1468.8 1320.9 1469.0 1323.2 1469.2 C1325.6 1469.4 1327.9 1469.6 1330.2 1469.7 C1332.5 1469.9 1334.8 1470.1 1337.1 1470.2 C1339.4 1470.3 1342.9 1470.4 1344.0 1470.5" stroke="#070707" stroke-width="10" fill="none" stroke-linecap="butt" stroke-linejoin="round"/>
<path d="M1855.3 193.5 C1855.4 192.2 1855.3 188.0 1855.6 185.5 C1856.0 183.0 1856.6 180.6 1857.3 178.3 C1858.1 176.1 1859.1 173.9 1860.3 172.0 C1861.4 170.0 1862.8 168.1 1864.2 166.4 C1865.7 164.7 1867.4 163.1 1869.1 161.7 C1870.9 160.3 1872.8 159.0 1874.8 157.8 C1876.8 156.7 1878.9 155.6 1881.1 154.8 C1883.2 153.9 1885.5 153.1 1887.8 152.5 C1890.1 151.9 1892.5 151.5 1894.8 151.1 C1897.2 150.8 1899.6 150.6 1902.0 150.6 C1904.4 150.5 1906.9 150.6 1909.2 150.9 C1911.6 151.1 1914.0 151.5 1916.3 152.0 C1918.6 152.5 1920.9 153.1 1923.1 153.9 C1925.3 154.6 1927.5 155.5 1929.6 156.5 C1931.7 157.5 1933.7 158.6 1935.7 159.8 C1937.7 161.0 1939.6 162.3 1941.3 163.7 C1943.1 165.1 1944.8 166.6 1946.4 168.2 C1948.0 169.8 1949.5 171.4 1950.9 173.2 C1952.3 174.9 1953.7 176.7 1954.9 178.6 C1956.2 180.4 1957.3 182.4 1958.4 184.4 C1959.5 186.3 1960.6 188.4 1961.6 190.4 C1962.6 192.5 1963.5 194.6 1964.4 196.8 C1965.3 198.9 1966.1 201.1 1967.0 203.3 C1967.8 205.5 1968.6 207.7 1969.3 209.9 C1970.1 212.1 1970.9 214.3 1971.6 216.6 C1972.4 218.8 1973.1 221.1 1973.8 223.3 C1974.5 225.6 1975.2 227.8 1975.8 230.1 C1976.5 232.4 1977.1 234.6 1977.7 236.9 C1978.4 239.2 1979.0 241.5 1979.5 243.8 C1980.1 246.1 1980.7 248.4 1981.2 250.7 C1981.8 253.0 1982.3 255.3 1982.8 257.7 C1983.3 260.0 1983.8 262.3 1984.2 264.6 C1984.7 267.0 1985.1 269.3 1985.6 271.6 C1986.0 274.0 1986.4 276.3 1986.8 278.7 C1987.2 281.0 1987.5 283.4 1987.9 285.7 C1988.2 288.1 1988.5 290.4 1988.8 292.8 C1989.1 295.2 1989.4 297.5 1989.7 299.9 C1989.9 302.3 1990.2 304.6 1990.4 307.0 C1990.6 309.4 1990.8 311.8 1991.0 314.1 C1991.2 316.5 1991.3 318.9 1991.5 321.3 C1991.6 323.6 1991.7 326.0 1991.8 328.4 C1991.9 330.8 1992.0 333.2 1992.0 335.5 C1992.1 337.9 1992.1 340.3 1992.1 342.7 C1992.1 345.1 1992.1 347.4 1992.1 349.8 C1992.1 352.2 1992.0 354.6 1991.9 356.9 C1991.9 359.3 1991.8 361.7 1991.7 364.1 C1991.5 366.4 1991.4 368.8 1991.2 371.2 C1991.1 373.5 1990.9 375.9 1990.7 378.2 C1990.5 380.6 1990.3 383.0 1990.0 385.3 C1989.8 387.7 1989.5 390.0 1989.2 392.4 C1988.9 394.7 1988.6 397.1 1988.3 399.4 C1987.9 401.7 1987.6 404.1 1987.2 406.4 C1986.8 408.7 1986.4 411.0 1986.0 413.4 C1985.6 415.7 1985.1 418.0 1984.7 420.3 C1984.2 422.6 1983.7 424.9 1983.2 427.2 C1982.7 429.5 1982.1 431.8 1981.6 434.0 C1981.0 436.3 1980.5 438.6 1979.8 440.9 C1979.2 443.1 1978.6 445.4 1978.0 447.6 C1977.3 449.9 1976.7 452.1 1976.0 454.3 C1975.3 456.6 1974.6 458.8 1973.8 461.0 C1973.1 463.2 1972.3 465.4 1971.5 467.6 C1970.7 469.8 1969.9 472.0 1969.1 474.2 C1968.3 476.4 1967.4 478.5 1966.5 480.7 C1965.7 482.8 1964.8 485.0 1963.8 487.1 C1962.9 489.2 1962.0 491.4 1961.0 493.5 C1960.0 495.6 1959.0 497.7 1958.0 499.8 C1957.0 501.8 1955.9 503.9 1954.9 506.0 C1953.8 508.0 1952.7 510.1 1951.6 512.1 C1950.5 514.2 1949.4 516.2 1948.2 518.2 C1947.0 520.2 1945.9 522.2 1944.6 524.2 C1943.4 526.2 1942.2 528.1 1941.0 530.1 C1939.7 532.0 1938.4 534.0 1937.1 535.9 C1935.9 537.8 1934.5 539.8 1933.2 541.7 C1931.9 543.6 1930.5 545.5 1929.2 547.4 C1927.8 549.3 1926.4 551.2 1925.0 553.0 C1923.6 554.9 1922.2 556.8 1920.8 558.6 C1919.3 560.5 1917.9 562.3 1916.4 564.2 C1915.0 566.0 1913.5 567.8 1912.0 569.7 C1910.6 571.5 1909.1 573.3 1907.6 575.1 C1906.0 576.9 1904.5 578.7 1903.0 580.5 C1901.5 582.3 1900.0 584.1 1898.4 585.9 C1896.9 587.7 1895.3 589.5 1893.8 591.3 C1892.2 593.1 1890.6 594.8 1889.1 596.6 C1887.5 598.4 1885.9 600.2 1884.4 601.9 C1882.8 603.7 1881.2 605.5 1879.6 607.2 C1878.0 609.0 1876.4 610.8 1874.8 612.5 C1873.3 614.3 1871.7 616.1 1870.1 617.8 C1868.5 619.6 1866.9 621.4 1865.3 623.1 C1863.7 624.9 1862.1 626.6 1860.5 628.4 C1859.0 630.2 1857.4 631.9 1855.8 633.7 C1854.2 635.5 1852.6 637.3 1851.1 639.0 C1849.5 640.8 1847.9 642.6 1846.4 644.4 C1844.8 646.1 1843.3 647.9 1841.7 649.7 C1840.2 651.5 1838.7 653.3 1837.1 655.1 C1835.6 656.9 1834.1 658.7 1832.6 660.5 C1831.1 662.3 1829.6 664.1 1828.1 666.0 C1826.6 667.8 1825.1 669.6 1823.7 671.4 C1822.2 673.3 1820.8 675.1 1819.3 677.0 C1817.9 678.8 1816.5 680.7 1815.1 682.6 C1813.6 684.4 1812.2 686.3 1810.9 688.2 C1809.5 690.0 1808.1 691.9 1806.7 693.8 C1805.4 695.7 1804.0 697.6 1802.7 699.5 C1801.3 701.4 1800.0 703.4 1798.7 705.3 C1797.3 707.2 1796.0 709.1 1794.7 711.1 C1793.4 713.0 1792.1 714.9 1790.9 716.9 C1789.6 718.8 1788.3 720.8 1787.0 722.8 C1785.8 724.7 1784.5 726.7 1783.3 728.7 C1782.0 730.6 1780.8 732.6 1779.5 734.6 C1778.3 736.6 1777.1 738.6 1775.9 740.6 C1774.6 742.6 1773.4 744.6 1772.2 746.6 C1771.0 748.7 1769.8 750.7 1768.7 752.7 C1767.5 754.7 1766.3 756.8 1765.1 758.8 C1763.9 760.9 1762.8 762.9 1761.6 765.0 C1760.4 767.0 1759.3 769.1 1758.1 771.2 C1757.0 773.2 1755.8 775.3 1754.7 777.4 C1753.6 779.5 1752.4 781.6 1751.3 783.7 C1750.2 785.8 1749.1 787.9 1748.0 790.0 C1746.9 792.1 1745.8 794.2 1744.7 796.3 C1743.6 798.5 1742.6 800.6 1741.6 802.8 C1740.6 804.9 1739.6 807.1 1738.7 809.2 C1737.7 811.4 1736.8 813.6 1736.0 815.8 C1735.1 818.0 1734.3 820.2 1733.5 822.5 C1732.8 824.7 1732.1 827.0 1731.4 829.2 C1730.8 831.5 1730.2 833.8 1729.7 836.1 C1729.1 838.4 1728.7 840.7 1728.3 843.0 C1727.9 845.4 1727.6 847.7 1727.4 850.1 C1727.1 852.4 1726.9 854.8 1726.9 857.1 C1726.8 859.5 1726.8 861.8 1726.8 864.2 C1726.9 866.5 1727.1 868.9 1727.3 871.2 C1727.6 873.5 1727.9 875.8 1728.3 878.1 C1728.7 880.4 1729.2 882.6 1729.8 884.9 C1730.5 887.1 1731.1 889.3 1731.9 891.5 C1732.7 893.6 1733.6 895.8 1734.6 897.9 C1735.6 900.0 1736.7 902.0 1737.9 904.0 C1739.1 906.0 1740.3 908.0 1741.7 909.9 C1743.0 911.8 1744.4 913.7 1745.9 915.5 C1747.4 917.3 1749.0 919.0 1750.6 920.7 C1752.3 922.4 1754.0 924.0 1755.8 925.5 C1757.5 927.1 1759.4 928.6 1761.3 930.0 C1763.2 931.4 1765.1 932.8 1767.1 934.1 C1769.1 935.3 1771.2 936.5 1773.3 937.7 C1775.4 938.8 1777.5 939.8 1779.7 940.8 C1781.9 941.7 1784.1 942.6 1786.3 943.3 C1788.6 944.1 1790.9 944.8 1793.2 945.4 C1795.5 946.0 1797.8 946.5 1800.2 946.9 C1802.5 947.2 1804.9 947.5 1807.3 947.7 C1809.7 947.9 1812.1 948.0 1814.5 947.9 C1816.9 947.9 1820.5 947.6 1821.7 947.5" stroke="#f5c419" stroke-width="9.8" fill="none" stroke-linecap="butt" stroke-linejoin="round"/>
<path d="M1770.4 207.9 C1771.3 208.7 1773.8 211.0 1775.5 212.6 C1777.2 214.2 1778.9 215.8 1780.5 217.5 C1782.1 219.2 1783.7 220.9 1785.2 222.6 C1786.8 224.4 1788.3 226.1 1789.8 227.9 C1791.3 229.7 1792.8 231.5 1794.2 233.4 C1795.6 235.3 1797.0 237.1 1798.4 239.1 C1799.7 241.0 1801.1 242.9 1802.4 244.9 C1803.7 246.8 1804.9 248.8 1806.2 250.8 C1807.4 252.9 1808.6 254.9 1809.8 257.0 C1811.0 259.0 1812.1 261.1 1813.2 263.2 C1814.3 265.3 1815.3 267.4 1816.4 269.6 C1817.4 271.7 1818.4 273.9 1819.4 276.1 C1820.3 278.2 1821.2 280.4 1822.1 282.7 C1823.0 284.9 1823.9 287.1 1824.7 289.3 C1825.5 291.6 1826.3 293.9 1827.0 296.1 C1827.8 298.4 1828.5 300.7 1829.2 303.0 C1829.8 305.3 1830.5 307.6 1831.1 309.9 C1831.7 312.2 1832.2 314.5 1832.7 316.9 C1833.3 319.2 1833.7 321.5 1834.2 323.9 C1834.6 326.2 1835.0 328.6 1835.4 330.9 C1835.8 333.3 1836.1 335.7 1836.4 338.0 C1836.7 340.4 1836.9 342.8 1837.1 345.1 C1837.3 347.5 1837.5 349.9 1837.6 352.3 C1837.8 354.6 1837.8 357.0 1837.9 359.4 C1837.9 361.7 1837.9 364.1 1837.9 366.5 C1837.9 368.8 1837.8 371.2 1837.7 373.6 C1837.6 375.9 1837.4 378.3 1837.2 380.6 C1837.0 383.0 1836.8 385.3 1836.5 387.6 C1836.2 390.0 1835.9 392.3 1835.5 394.6 C1835.1 396.9 1834.7 399.2 1834.2 401.5 C1833.8 403.8 1833.3 406.1 1832.7 408.4 C1832.2 410.6 1831.6 412.9 1831.0 415.1 C1830.3 417.4 1829.6 419.6 1828.9 421.8 C1828.2 424.0 1827.4 426.2 1826.7 428.4 C1825.9 430.6 1825.0 432.8 1824.2 435.0 C1823.3 437.1 1822.4 439.3 1821.5 441.5 C1820.6 443.6 1819.7 445.8 1818.7 447.9 C1817.7 450.1 1816.8 452.2 1815.8 454.3 C1814.8 456.5 1813.7 458.6 1812.7 460.7 C1811.7 462.8 1810.6 464.9 1809.6 467.1 C1808.5 469.2 1807.5 471.3 1806.4 473.4 C1805.4 475.5 1804.3 477.7 1803.2 479.8 C1802.1 481.9 1801.1 484.0 1800.0 486.2 C1799.0 488.3 1797.9 490.4 1796.8 492.5 C1795.8 494.7 1794.8 496.8 1793.7 499.0 C1792.7 501.1 1791.7 503.3 1790.7 505.4 C1789.7 507.6 1788.7 509.7 1787.8 511.9 C1786.8 514.1 1785.9 516.3 1785.0 518.5 C1784.0 520.7 1783.2 522.9 1782.3 525.1 C1781.5 527.3 1780.6 529.5 1779.8 531.8 C1779.1 534.0 1778.3 536.3 1777.6 538.6 C1776.9 540.8 1776.2 543.1 1775.6 545.4 C1774.9 547.7 1774.4 550.1 1773.8 552.4 C1773.3 554.7 1772.8 557.0 1772.3 559.4 C1771.8 561.7 1771.4 564.0 1771.1 566.4 C1770.7 568.7 1770.4 571.1 1770.1 573.4 C1769.9 575.8 1769.7 578.1 1769.5 580.5 C1769.4 582.8 1769.2 585.1 1769.2 587.5 C1769.2 589.8 1769.2 592.1 1769.2 594.5 C1769.3 596.8 1769.4 599.1 1769.6 601.4 C1769.8 603.7 1770.0 606.0 1770.3 608.3 C1770.7 610.6 1771.0 612.8 1771.5 615.1 C1771.9 617.3 1772.4 619.6 1773.0 621.8 C1773.6 624.0 1774.2 626.2 1774.9 628.4 C1775.6 630.5 1776.4 632.7 1777.3 634.8 C1778.1 636.9 1779.1 639.0 1780.1 641.1 C1781.0 643.2 1782.1 645.2 1783.2 647.3 C1784.3 649.3 1785.5 651.3 1786.7 653.3 C1788.0 655.3 1789.2 657.2 1790.6 659.1 C1791.9 661.1 1793.3 663.0 1794.7 664.9 C1796.2 666.7 1797.6 668.6 1799.2 670.4 C1800.7 672.3 1802.2 674.1 1803.8 675.8 C1805.4 677.6 1807.0 679.4 1808.7 681.1 C1810.3 682.8 1812.0 684.5 1813.8 686.2 C1815.5 687.8 1817.2 689.5 1819.0 691.1 C1820.7 692.7 1822.5 694.3 1824.3 695.9 C1826.1 697.5 1827.9 699.1 1829.8 700.6 C1831.6 702.1 1833.5 703.7 1835.3 705.2 C1837.2 706.7 1839.1 708.2 1840.9 709.7 C1842.8 711.2 1844.7 712.7 1846.6 714.2 C1848.5 715.7 1850.4 717.1 1852.3 718.6 C1854.2 720.1 1856.1 721.5 1858.0 723.0 C1859.9 724.5 1861.8 726.0 1863.6 727.4 C1865.5 728.9 1867.4 730.4 1869.3 731.9 C1871.1 733.4 1873.0 734.9 1874.8 736.4 C1876.7 737.9 1878.5 739.4 1880.3 740.9 C1882.2 742.4 1884.0 743.9 1885.8 745.5 C1887.5 747.0 1889.3 748.6 1891.1 750.1 C1892.8 751.7 1894.5 753.3 1896.3 754.9 C1898.0 756.5 1899.7 758.1 1901.3 759.7 C1903.0 761.4 1904.6 763.0 1906.2 764.7 C1907.8 766.4 1909.4 768.0 1911.0 769.8 C1912.5 771.5 1914.0 773.2 1915.5 775.0 C1917.0 776.7 1918.5 778.5 1919.9 780.3 C1921.3 782.1 1922.7 784.0 1924.0 785.8 C1925.4 787.7 1926.7 789.6 1928.0 791.5 C1929.2 793.5 1930.5 795.4 1931.7 797.4 C1932.8 799.4 1934.0 801.4 1935.1 803.4 C1936.2 805.5 1937.3 807.5 1938.3 809.6 C1939.4 811.7 1940.4 813.8 1941.3 815.9 C1942.3 818.1 1943.2 820.2 1944.1 822.4 C1945.0 824.5 1945.8 826.7 1946.6 828.9 C1947.4 831.2 1948.2 833.4 1948.9 835.6 C1949.7 837.9 1950.4 840.1 1951.0 842.4 C1951.7 844.7 1952.3 847.0 1952.9 849.3 C1953.5 851.6 1954.0 853.9 1954.5 856.2 C1955.0 858.6 1955.5 860.9 1956.0 863.3 C1956.4 865.6 1956.8 868.0 1957.2 870.3 C1957.5 872.7 1957.9 875.1 1958.2 877.5 C1958.5 879.9 1958.7 882.2 1959.0 884.6 C1959.2 887.0 1959.4 889.4 1959.5 891.8 C1959.7 894.2 1959.8 896.6 1959.9 899.0 C1960.0 901.4 1960.0 903.8 1960.1 906.2 C1960.1 908.7 1960.1 911.1 1960.0 913.5 C1960.0 915.9 1959.9 918.3 1959.8 920.7 C1959.7 923.0 1959.5 925.4 1959.3 927.8 C1959.1 930.2 1958.9 932.6 1958.7 935.0 C1958.4 937.3 1958.1 939.7 1957.8 942.0 C1957.5 944.4 1957.2 946.7 1956.8 949.1 C1956.4 951.4 1956.0 953.7 1955.5 956.0 C1955.1 958.4 1954.6 960.7 1954.1 962.9 C1953.6 965.2 1953.1 967.5 1952.5 969.7 C1951.9 972.0 1951.3 974.2 1950.7 976.4 C1950.0 978.6 1949.4 980.8 1948.7 983.0 C1948.0 985.2 1946.9 988.4 1946.5 989.5" stroke="#6b4211" stroke-width="10" fill="none" stroke-linecap="butt" stroke-linejoin="round"/>
<line x1="566" y1="204" x2="599" y2="194" stroke="#070707" stroke-width="10"/>
<ellipse cx="547" cy="210" rx="29.5" ry="26.5" fill="#3f2c2d" stroke="#070707" stroke-width="10"/>
<ellipse cx="1739.8" cy="807.4" rx="16.7" ry="21.1" fill="#3f2c2d"/>
<ellipse cx="1848.2" cy="949.6" rx="27" ry="28" fill="#070707"/>
<ellipse cx="1786.8" cy="1018.8" rx="17.9" ry="23.5" fill="#070707"/>
<ellipse cx="1943.8" cy="1000" rx="15.7" ry="13.5" fill="#070707"/>
<rect x="1.5" y="1.5" width="1997" height="1522" fill="none" stroke="#e6fbff" stroke-width="1"/>
<rect x="0.5" y="0.5" width="1999" height="1524" fill="none" stroke="#415660" stroke-width="1"/>
</svg>
</body></html>
